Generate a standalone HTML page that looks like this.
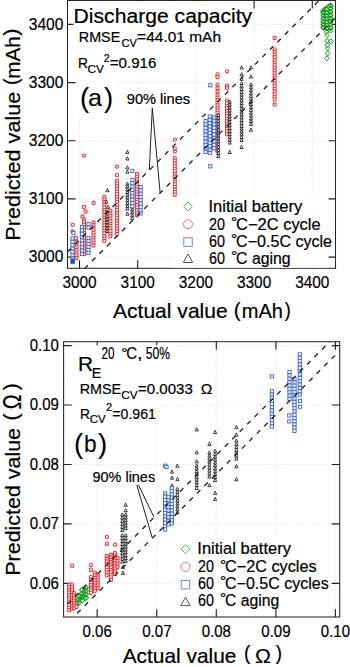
<!DOCTYPE html>
<html><head><meta charset="utf-8"><style>html,body{margin:0;padding:0;background:#fff;width:350px;height:667px;overflow:hidden}</style></head>
<body><svg width="350" height="667" viewBox="0 0 350 667" style="display:block;font-family:'Liberation Sans', sans-serif" fill="#000"><style>text{stroke:#000;stroke-width:0.22px;paint-order:stroke}</style><line x1="79.5" y1="0.5" x2="79.5" y2="268.3" stroke="#d4d4f0" stroke-width="0.7" stroke-dasharray="1 1.3"/><line x1="67.5" y1="257.1" x2="335.5" y2="257.1" stroke="#d4d4f0" stroke-width="0.7" stroke-dasharray="1 1.3"/><line x1="137.7" y1="0.5" x2="137.7" y2="268.3" stroke="#d4d4f0" stroke-width="0.7" stroke-dasharray="1 1.3"/><line x1="67.5" y1="198.9" x2="335.5" y2="198.9" stroke="#d4d4f0" stroke-width="0.7" stroke-dasharray="1 1.3"/><line x1="195.9" y1="0.5" x2="195.9" y2="268.3" stroke="#d4d4f0" stroke-width="0.7" stroke-dasharray="1 1.3"/><line x1="67.5" y1="140.8" x2="335.5" y2="140.8" stroke="#d4d4f0" stroke-width="0.7" stroke-dasharray="1 1.3"/><line x1="254.1" y1="0.5" x2="254.1" y2="268.3" stroke="#d4d4f0" stroke-width="0.7" stroke-dasharray="1 1.3"/><line x1="67.5" y1="82.6" x2="335.5" y2="82.6" stroke="#d4d4f0" stroke-width="0.7" stroke-dasharray="1 1.3"/><line x1="312.3" y1="0.5" x2="312.3" y2="268.3" stroke="#d4d4f0" stroke-width="0.7" stroke-dasharray="1 1.3"/><line x1="67.5" y1="24.4" x2="335.5" y2="24.4" stroke="#d4d4f0" stroke-width="0.7" stroke-dasharray="1 1.3"/><rect x="67.5" y="0.5" width="268.0" height="267.8" fill="none" stroke="#262626" stroke-width="1.05"/><path d="M79.5 268.3v-8M79.5 0.5v8M67.5 257.1h8M335.5 257.1h-7M137.7 268.3v-8M137.7 0.5v8M67.5 198.9h8M335.5 198.9h-7M195.9 268.3v-8M195.9 0.5v8M67.5 140.8h8M335.5 140.8h-7M254.1 268.3v-8M254.1 0.5v8M67.5 82.6h8M335.5 82.6h-7M312.3 268.3v-8M312.3 0.5v8M67.5 24.4h8M335.5 24.4h-7" stroke="#222" stroke-width="1.1"/><rect x="171.5" y="196.5" width="156.5" height="71.3" fill="#fff"/><rect x="73.4" y="1.1" width="179.6" height="26.9" fill="#fff"/><rect x="76" y="28" width="146.0" height="21.7" fill="#fff"/><rect x="76" y="49.7" width="82.0" height="26.0" fill="#fff"/><rect x="78" y="75.7" width="38.3" height="38.9" fill="#fff"/><rect x="125.5" y="90.7" width="65.5" height="17.3" fill="#fff"/><path d="M330.6 3.2L332.9 5.6L330.6 8.0L328.3 5.6Z" fill="#fff" stroke="#16a01e" stroke-width="1.35"/><path d="M328.2 4.8L330.5 7.2L328.2 9.6L325.9 7.2Z" fill="#fff" stroke="#16a01e" stroke-width="1.35"/><path d="M325.6 6.6L327.9 9.0L325.6 11.4L323.3 9.0Z" fill="#fff" stroke="#16a01e" stroke-width="1.35"/><path d="M323.4 8.6L325.7 11.0L323.4 13.4L321.1 11.0Z" fill="#fff" stroke="#16a01e" stroke-width="1.35"/><path d="M323.4 10.2L325.7 12.6L323.4 15.0L321.1 12.6Z" fill="#fff" stroke="#16a01e" stroke-width="1.35"/><path d="M323.4 13.2L325.7 15.6L323.4 18.0L321.1 15.6Z" fill="#fff" stroke="#16a01e" stroke-width="1.35"/><path d="M323.4 16.2L325.7 18.6L323.4 21.0L321.1 18.6Z" fill="#fff" stroke="#16a01e" stroke-width="1.35"/><path d="M323.4 19.4L325.7 21.8L323.4 24.2L321.1 21.8Z" fill="#fff" stroke="#16a01e" stroke-width="1.35"/><path d="M323.4 22.4L325.7 24.8L323.4 27.2L321.1 24.8Z" fill="#fff" stroke="#16a01e" stroke-width="1.35"/><path d="M323.4 25.2L325.7 27.6L323.4 30.0L321.1 27.6Z" fill="#fff" stroke="#16a01e" stroke-width="1.35"/><path d="M326.8 7.0L329.1 9.4L326.8 11.8L324.5 9.4Z" fill="#fff" stroke="#16a01e" stroke-width="1.35"/><path d="M326.8 10.4L329.1 12.8L326.8 15.2L324.5 12.8Z" fill="#fff" stroke="#16a01e" stroke-width="1.35"/><path d="M326.8 13.6L329.1 16.0L326.8 18.4L324.5 16.0Z" fill="#fff" stroke="#16a01e" stroke-width="1.35"/><path d="M326.8 16.8L329.1 19.2L326.8 21.6L324.5 19.2Z" fill="#fff" stroke="#16a01e" stroke-width="1.35"/><path d="M326.8 19.8L329.1 22.2L326.8 24.6L324.5 22.2Z" fill="#fff" stroke="#16a01e" stroke-width="1.35"/><path d="M326.8 23.0L329.1 25.4L326.8 27.8L324.5 25.4Z" fill="#fff" stroke="#16a01e" stroke-width="1.35"/><path d="M326.8 26.0L329.1 28.4L326.8 30.8L324.5 28.4Z" fill="#fff" stroke="#16a01e" stroke-width="1.35"/><path d="M330.5 6.2L332.8 8.6L330.5 11.0L328.2 8.6Z" fill="#fff" stroke="#16a01e" stroke-width="1.35"/><path d="M330.5 9.6L332.8 12.0L330.5 14.4L328.2 12.0Z" fill="#fff" stroke="#16a01e" stroke-width="1.35"/><path d="M330.5 12.8L332.8 15.2L330.5 17.6L328.2 15.2Z" fill="#fff" stroke="#16a01e" stroke-width="1.35"/><path d="M330.5 16.2L332.8 18.6L330.5 21.0L328.2 18.6Z" fill="#fff" stroke="#16a01e" stroke-width="1.35"/><path d="M330.5 19.4L332.8 21.8L330.5 24.2L328.2 21.8Z" fill="#fff" stroke="#16a01e" stroke-width="1.35"/><path d="M330.5 22.6L332.8 25.0L330.5 27.4L328.2 25.0Z" fill="#fff" stroke="#16a01e" stroke-width="1.35"/><path d="M330.5 25.6L332.8 28.0L330.5 30.4L328.2 28.0Z" fill="#fff" stroke="#16a01e" stroke-width="1.35"/><path d="M326.5 29.2L328.9 31.8L326.5 34.4L324.1 31.8Z" fill="none" stroke="#16a01e" stroke-width="1.0"/><path d="M330.6 28.0L333.0 30.6L330.6 33.2L328.2 30.6Z" fill="none" stroke="#16a01e" stroke-width="1.0"/><path d="M327.0 32.5L329.4 35.1L327.0 37.7L324.6 35.1Z" fill="none" stroke="#16a01e" stroke-width="1.0"/><path d="M327.0 38.4L329.4 41.0L327.0 43.6L324.6 41.0Z" fill="none" stroke="#16a01e" stroke-width="1.0"/><path d="M330.8 38.8L333.2 41.4L330.8 44.0L328.4 41.4Z" fill="none" stroke="#16a01e" stroke-width="1.0"/><path d="M327.3 42.5L329.7 45.1L327.3 47.7L324.9 45.1Z" fill="none" stroke="#16a01e" stroke-width="1.0"/><path d="M327.6 45.7L330.0 48.3L327.6 50.9L325.2 48.3Z" fill="none" stroke="#16a01e" stroke-width="1.0"/><path d="M327.6 50.7L330.0 53.3L327.6 55.9L325.2 53.3Z" fill="none" stroke="#16a01e" stroke-width="1.0"/><path d="M327.0 55.7L329.4 58.3L327.0 60.9L324.6 58.3Z" fill="none" stroke="#16a01e" stroke-width="1.0"/><circle cx="84.0" cy="155.6" r="1.65" fill="#fff" stroke="#e8333a" stroke-width="1.05"/><circle cx="84.0" cy="207.0" r="1.65" fill="#fff" stroke="#e8333a" stroke-width="1.05"/><circle cx="85.5" cy="211.5" r="1.65" fill="#fff" stroke="#e8333a" stroke-width="1.05"/><circle cx="82.5" cy="216.5" r="1.65" fill="#fff" stroke="#e8333a" stroke-width="1.05"/><circle cx="93.6" cy="203.0" r="1.65" fill="#fff" stroke="#e8333a" stroke-width="1.05"/><circle cx="72.8" cy="224.8" r="1.65" fill="#fff" stroke="#e8333a" stroke-width="1.05"/><circle cx="72.5" cy="231.5" r="1.65" fill="#fff" stroke="#e8333a" stroke-width="1.05"/><circle cx="76.0" cy="238.0" r="1.65" fill="#fff" stroke="#e8333a" stroke-width="1.05"/><circle cx="76.5" cy="242.0" r="1.65" fill="#fff" stroke="#e8333a" stroke-width="1.05"/><circle cx="76.5" cy="244.7" r="1.65" fill="#fff" stroke="#e8333a" stroke-width="1.05"/><circle cx="76.5" cy="247.3" r="1.65" fill="#fff" stroke="#e8333a" stroke-width="1.05"/><circle cx="76.5" cy="250.0" r="1.65" fill="#fff" stroke="#e8333a" stroke-width="1.05"/><circle cx="76.5" cy="252.7" r="1.65" fill="#fff" stroke="#e8333a" stroke-width="1.05"/><circle cx="76.5" cy="255.3" r="1.65" fill="#fff" stroke="#e8333a" stroke-width="1.05"/><circle cx="76.5" cy="258.0" r="1.65" fill="#fff" stroke="#e8333a" stroke-width="1.05"/><circle cx="84.0" cy="219.5" r="1.65" fill="#fff" stroke="#e8333a" stroke-width="1.05"/><circle cx="84.0" cy="222.2" r="1.65" fill="#fff" stroke="#e8333a" stroke-width="1.05"/><circle cx="84.0" cy="224.8" r="1.65" fill="#fff" stroke="#e8333a" stroke-width="1.05"/><circle cx="84.0" cy="227.5" r="1.65" fill="#fff" stroke="#e8333a" stroke-width="1.05"/><circle cx="84.0" cy="230.1" r="1.65" fill="#fff" stroke="#e8333a" stroke-width="1.05"/><circle cx="84.0" cy="232.8" r="1.65" fill="#fff" stroke="#e8333a" stroke-width="1.05"/><circle cx="84.0" cy="235.4" r="1.65" fill="#fff" stroke="#e8333a" stroke-width="1.05"/><circle cx="84.0" cy="238.1" r="1.65" fill="#fff" stroke="#e8333a" stroke-width="1.05"/><circle cx="84.0" cy="240.7" r="1.65" fill="#fff" stroke="#e8333a" stroke-width="1.05"/><circle cx="84.0" cy="243.4" r="1.65" fill="#fff" stroke="#e8333a" stroke-width="1.05"/><circle cx="84.0" cy="246.0" r="1.65" fill="#fff" stroke="#e8333a" stroke-width="1.05"/><circle cx="84.0" cy="248.7" r="1.65" fill="#fff" stroke="#e8333a" stroke-width="1.05"/><circle cx="84.0" cy="251.3" r="1.65" fill="#fff" stroke="#e8333a" stroke-width="1.05"/><circle cx="84.0" cy="254.0" r="1.65" fill="#fff" stroke="#e8333a" stroke-width="1.05"/><circle cx="93.5" cy="222.5" r="1.65" fill="#fff" stroke="#e8333a" stroke-width="1.05"/><circle cx="93.5" cy="225.1" r="1.65" fill="#fff" stroke="#e8333a" stroke-width="1.05"/><circle cx="93.5" cy="227.6" r="1.65" fill="#fff" stroke="#e8333a" stroke-width="1.05"/><circle cx="93.5" cy="230.2" r="1.65" fill="#fff" stroke="#e8333a" stroke-width="1.05"/><circle cx="93.5" cy="232.7" r="1.65" fill="#fff" stroke="#e8333a" stroke-width="1.05"/><circle cx="93.5" cy="235.3" r="1.65" fill="#fff" stroke="#e8333a" stroke-width="1.05"/><circle cx="93.5" cy="237.8" r="1.65" fill="#fff" stroke="#e8333a" stroke-width="1.05"/><circle cx="93.5" cy="240.4" r="1.65" fill="#fff" stroke="#e8333a" stroke-width="1.05"/><circle cx="93.5" cy="242.9" r="1.65" fill="#fff" stroke="#e8333a" stroke-width="1.05"/><circle cx="93.5" cy="245.5" r="1.65" fill="#fff" stroke="#e8333a" stroke-width="1.05"/><circle cx="104.4" cy="196.8" r="1.65" fill="#fff" stroke="#e8333a" stroke-width="1.05"/><circle cx="104.4" cy="199.4" r="1.65" fill="#fff" stroke="#e8333a" stroke-width="1.05"/><circle cx="104.4" cy="202.0" r="1.65" fill="#fff" stroke="#e8333a" stroke-width="1.05"/><circle cx="104.4" cy="204.6" r="1.65" fill="#fff" stroke="#e8333a" stroke-width="1.05"/><circle cx="104.4" cy="207.2" r="1.65" fill="#fff" stroke="#e8333a" stroke-width="1.05"/><circle cx="104.4" cy="209.8" r="1.65" fill="#fff" stroke="#e8333a" stroke-width="1.05"/><circle cx="104.4" cy="212.4" r="1.65" fill="#fff" stroke="#e8333a" stroke-width="1.05"/><circle cx="104.4" cy="215.0" r="1.65" fill="#fff" stroke="#e8333a" stroke-width="1.05"/><circle cx="104.4" cy="217.6" r="1.65" fill="#fff" stroke="#e8333a" stroke-width="1.05"/><circle cx="104.4" cy="220.2" r="1.65" fill="#fff" stroke="#e8333a" stroke-width="1.05"/><circle cx="104.4" cy="222.8" r="1.65" fill="#fff" stroke="#e8333a" stroke-width="1.05"/><circle cx="104.4" cy="225.4" r="1.65" fill="#fff" stroke="#e8333a" stroke-width="1.05"/><circle cx="104.4" cy="228.0" r="1.65" fill="#fff" stroke="#e8333a" stroke-width="1.05"/><circle cx="104.4" cy="230.6" r="1.65" fill="#fff" stroke="#e8333a" stroke-width="1.05"/><circle cx="104.4" cy="233.2" r="1.65" fill="#fff" stroke="#e8333a" stroke-width="1.05"/><circle cx="104.4" cy="235.8" r="1.65" fill="#fff" stroke="#e8333a" stroke-width="1.05"/><circle cx="104.4" cy="238.4" r="1.65" fill="#fff" stroke="#e8333a" stroke-width="1.05"/><circle cx="104.4" cy="241.0" r="1.65" fill="#fff" stroke="#e8333a" stroke-width="1.05"/><circle cx="110.4" cy="211.0" r="1.65" fill="#fff" stroke="#e8333a" stroke-width="1.05"/><circle cx="110.4" cy="213.5" r="1.65" fill="#fff" stroke="#e8333a" stroke-width="1.05"/><circle cx="110.4" cy="216.1" r="1.65" fill="#fff" stroke="#e8333a" stroke-width="1.05"/><circle cx="110.4" cy="218.6" r="1.65" fill="#fff" stroke="#e8333a" stroke-width="1.05"/><circle cx="110.4" cy="221.1" r="1.65" fill="#fff" stroke="#e8333a" stroke-width="1.05"/><circle cx="110.4" cy="223.7" r="1.65" fill="#fff" stroke="#e8333a" stroke-width="1.05"/><circle cx="110.4" cy="226.2" r="1.65" fill="#fff" stroke="#e8333a" stroke-width="1.05"/><circle cx="110.4" cy="228.7" r="1.65" fill="#fff" stroke="#e8333a" stroke-width="1.05"/><circle cx="110.4" cy="231.2" r="1.65" fill="#fff" stroke="#e8333a" stroke-width="1.05"/><circle cx="110.4" cy="233.8" r="1.65" fill="#fff" stroke="#e8333a" stroke-width="1.05"/><circle cx="110.4" cy="236.3" r="1.65" fill="#fff" stroke="#e8333a" stroke-width="1.05"/><circle cx="117.0" cy="166.6" r="1.65" fill="#fff" stroke="#e8333a" stroke-width="1.05"/><circle cx="117.0" cy="175.1" r="1.65" fill="#fff" stroke="#e8333a" stroke-width="1.05"/><circle cx="117.0" cy="181.0" r="1.65" fill="#fff" stroke="#e8333a" stroke-width="1.05"/><circle cx="117.0" cy="183.7" r="1.65" fill="#fff" stroke="#e8333a" stroke-width="1.05"/><circle cx="117.0" cy="186.3" r="1.65" fill="#fff" stroke="#e8333a" stroke-width="1.05"/><circle cx="117.0" cy="188.9" r="1.65" fill="#fff" stroke="#e8333a" stroke-width="1.05"/><circle cx="117.0" cy="191.6" r="1.65" fill="#fff" stroke="#e8333a" stroke-width="1.05"/><circle cx="117.0" cy="194.2" r="1.65" fill="#fff" stroke="#e8333a" stroke-width="1.05"/><circle cx="117.0" cy="196.9" r="1.65" fill="#fff" stroke="#e8333a" stroke-width="1.05"/><circle cx="117.0" cy="199.6" r="1.65" fill="#fff" stroke="#e8333a" stroke-width="1.05"/><circle cx="117.0" cy="202.2" r="1.65" fill="#fff" stroke="#e8333a" stroke-width="1.05"/><circle cx="117.0" cy="204.8" r="1.65" fill="#fff" stroke="#e8333a" stroke-width="1.05"/><circle cx="117.0" cy="207.5" r="1.65" fill="#fff" stroke="#e8333a" stroke-width="1.05"/><circle cx="117.0" cy="210.2" r="1.65" fill="#fff" stroke="#e8333a" stroke-width="1.05"/><circle cx="117.0" cy="212.8" r="1.65" fill="#fff" stroke="#e8333a" stroke-width="1.05"/><circle cx="117.0" cy="215.4" r="1.65" fill="#fff" stroke="#e8333a" stroke-width="1.05"/><circle cx="117.0" cy="218.1" r="1.65" fill="#fff" stroke="#e8333a" stroke-width="1.05"/><circle cx="117.0" cy="220.8" r="1.65" fill="#fff" stroke="#e8333a" stroke-width="1.05"/><circle cx="117.0" cy="223.4" r="1.65" fill="#fff" stroke="#e8333a" stroke-width="1.05"/><circle cx="117.0" cy="226.1" r="1.65" fill="#fff" stroke="#e8333a" stroke-width="1.05"/><circle cx="117.0" cy="228.7" r="1.65" fill="#fff" stroke="#e8333a" stroke-width="1.05"/><circle cx="117.0" cy="231.3" r="1.65" fill="#fff" stroke="#e8333a" stroke-width="1.05"/><circle cx="117.0" cy="234.0" r="1.65" fill="#fff" stroke="#e8333a" stroke-width="1.05"/><circle cx="137.0" cy="174.0" r="1.65" fill="#fff" stroke="#e8333a" stroke-width="1.05"/><circle cx="137.0" cy="176.6" r="1.65" fill="#fff" stroke="#e8333a" stroke-width="1.05"/><circle cx="137.0" cy="179.2" r="1.65" fill="#fff" stroke="#e8333a" stroke-width="1.05"/><circle cx="137.0" cy="181.7" r="1.65" fill="#fff" stroke="#e8333a" stroke-width="1.05"/><circle cx="137.0" cy="184.3" r="1.65" fill="#fff" stroke="#e8333a" stroke-width="1.05"/><circle cx="137.0" cy="186.9" r="1.65" fill="#fff" stroke="#e8333a" stroke-width="1.05"/><circle cx="137.0" cy="189.5" r="1.65" fill="#fff" stroke="#e8333a" stroke-width="1.05"/><circle cx="137.0" cy="192.1" r="1.65" fill="#fff" stroke="#e8333a" stroke-width="1.05"/><circle cx="137.0" cy="194.7" r="1.65" fill="#fff" stroke="#e8333a" stroke-width="1.05"/><circle cx="137.0" cy="197.2" r="1.65" fill="#fff" stroke="#e8333a" stroke-width="1.05"/><circle cx="137.0" cy="199.8" r="1.65" fill="#fff" stroke="#e8333a" stroke-width="1.05"/><circle cx="137.0" cy="202.4" r="1.65" fill="#fff" stroke="#e8333a" stroke-width="1.05"/><circle cx="137.0" cy="205.0" r="1.65" fill="#fff" stroke="#e8333a" stroke-width="1.05"/><circle cx="137.0" cy="207.6" r="1.65" fill="#fff" stroke="#e8333a" stroke-width="1.05"/><circle cx="137.0" cy="210.1" r="1.65" fill="#fff" stroke="#e8333a" stroke-width="1.05"/><circle cx="137.0" cy="212.7" r="1.65" fill="#fff" stroke="#e8333a" stroke-width="1.05"/><circle cx="137.0" cy="215.3" r="1.65" fill="#fff" stroke="#e8333a" stroke-width="1.05"/><circle cx="174.8" cy="139.6" r="1.65" fill="#fff" stroke="#e8333a" stroke-width="1.05"/><circle cx="174.8" cy="148.6" r="1.65" fill="#fff" stroke="#e8333a" stroke-width="1.05"/><circle cx="174.8" cy="151.6" r="1.65" fill="#fff" stroke="#e8333a" stroke-width="1.05"/><circle cx="174.8" cy="158.1" r="1.65" fill="#fff" stroke="#e8333a" stroke-width="1.05"/><circle cx="174.8" cy="160.7" r="1.65" fill="#fff" stroke="#e8333a" stroke-width="1.05"/><circle cx="174.8" cy="163.3" r="1.65" fill="#fff" stroke="#e8333a" stroke-width="1.05"/><circle cx="174.8" cy="165.9" r="1.65" fill="#fff" stroke="#e8333a" stroke-width="1.05"/><circle cx="174.8" cy="168.6" r="1.65" fill="#fff" stroke="#e8333a" stroke-width="1.05"/><circle cx="174.8" cy="171.2" r="1.65" fill="#fff" stroke="#e8333a" stroke-width="1.05"/><circle cx="174.8" cy="173.8" r="1.65" fill="#fff" stroke="#e8333a" stroke-width="1.05"/><circle cx="174.8" cy="176.4" r="1.65" fill="#fff" stroke="#e8333a" stroke-width="1.05"/><circle cx="174.8" cy="179.0" r="1.65" fill="#fff" stroke="#e8333a" stroke-width="1.05"/><circle cx="174.8" cy="181.6" r="1.65" fill="#fff" stroke="#e8333a" stroke-width="1.05"/><circle cx="174.8" cy="184.2" r="1.65" fill="#fff" stroke="#e8333a" stroke-width="1.05"/><circle cx="174.8" cy="186.9" r="1.65" fill="#fff" stroke="#e8333a" stroke-width="1.05"/><circle cx="174.8" cy="189.5" r="1.65" fill="#fff" stroke="#e8333a" stroke-width="1.05"/><circle cx="174.8" cy="192.1" r="1.65" fill="#fff" stroke="#e8333a" stroke-width="1.05"/><circle cx="174.8" cy="194.7" r="1.65" fill="#fff" stroke="#e8333a" stroke-width="1.05"/><circle cx="217.5" cy="74.3" r="1.65" fill="#fff" stroke="#e8333a" stroke-width="1.05"/><circle cx="217.5" cy="77.0" r="1.65" fill="#fff" stroke="#e8333a" stroke-width="1.05"/><circle cx="217.5" cy="84.6" r="1.65" fill="#fff" stroke="#e8333a" stroke-width="1.05"/><circle cx="217.5" cy="88.0" r="1.65" fill="#fff" stroke="#e8333a" stroke-width="1.05"/><circle cx="217.5" cy="91.5" r="1.65" fill="#fff" stroke="#e8333a" stroke-width="1.05"/><circle cx="217.5" cy="95.0" r="1.65" fill="#fff" stroke="#e8333a" stroke-width="1.05"/><circle cx="217.5" cy="97.6" r="1.65" fill="#fff" stroke="#e8333a" stroke-width="1.05"/><circle cx="217.5" cy="100.1" r="1.65" fill="#fff" stroke="#e8333a" stroke-width="1.05"/><circle cx="217.5" cy="102.7" r="1.65" fill="#fff" stroke="#e8333a" stroke-width="1.05"/><circle cx="217.5" cy="105.3" r="1.65" fill="#fff" stroke="#e8333a" stroke-width="1.05"/><circle cx="217.5" cy="107.8" r="1.65" fill="#fff" stroke="#e8333a" stroke-width="1.05"/><circle cx="217.5" cy="110.4" r="1.65" fill="#fff" stroke="#e8333a" stroke-width="1.05"/><circle cx="217.5" cy="112.9" r="1.65" fill="#fff" stroke="#e8333a" stroke-width="1.05"/><circle cx="217.5" cy="115.5" r="1.65" fill="#fff" stroke="#e8333a" stroke-width="1.05"/><circle cx="217.5" cy="118.1" r="1.65" fill="#fff" stroke="#e8333a" stroke-width="1.05"/><circle cx="217.5" cy="120.6" r="1.65" fill="#fff" stroke="#e8333a" stroke-width="1.05"/><circle cx="217.5" cy="123.2" r="1.65" fill="#fff" stroke="#e8333a" stroke-width="1.05"/><circle cx="217.5" cy="125.8" r="1.65" fill="#fff" stroke="#e8333a" stroke-width="1.05"/><circle cx="217.5" cy="128.3" r="1.65" fill="#fff" stroke="#e8333a" stroke-width="1.05"/><circle cx="217.5" cy="130.9" r="1.65" fill="#fff" stroke="#e8333a" stroke-width="1.05"/><circle cx="217.5" cy="133.5" r="1.65" fill="#fff" stroke="#e8333a" stroke-width="1.05"/><circle cx="217.5" cy="136.0" r="1.65" fill="#fff" stroke="#e8333a" stroke-width="1.05"/><circle cx="217.5" cy="138.6" r="1.65" fill="#fff" stroke="#e8333a" stroke-width="1.05"/><circle cx="217.5" cy="141.1" r="1.65" fill="#fff" stroke="#e8333a" stroke-width="1.05"/><circle cx="217.5" cy="143.7" r="1.65" fill="#fff" stroke="#e8333a" stroke-width="1.05"/><circle cx="217.5" cy="146.3" r="1.65" fill="#fff" stroke="#e8333a" stroke-width="1.05"/><circle cx="217.5" cy="148.8" r="1.65" fill="#fff" stroke="#e8333a" stroke-width="1.05"/><circle cx="217.5" cy="151.4" r="1.65" fill="#fff" stroke="#e8333a" stroke-width="1.05"/><circle cx="227.0" cy="71.3" r="1.65" fill="#fff" stroke="#e8333a" stroke-width="1.05"/><circle cx="227.0" cy="85.7" r="1.65" fill="#fff" stroke="#e8333a" stroke-width="1.05"/><circle cx="227.0" cy="88.0" r="1.65" fill="#fff" stroke="#e8333a" stroke-width="1.05"/><circle cx="227.0" cy="100.6" r="1.65" fill="#fff" stroke="#e8333a" stroke-width="1.05"/><circle cx="227.0" cy="103.2" r="1.65" fill="#fff" stroke="#e8333a" stroke-width="1.05"/><circle cx="227.0" cy="105.8" r="1.65" fill="#fff" stroke="#e8333a" stroke-width="1.05"/><circle cx="227.0" cy="108.4" r="1.65" fill="#fff" stroke="#e8333a" stroke-width="1.05"/><circle cx="227.0" cy="111.0" r="1.65" fill="#fff" stroke="#e8333a" stroke-width="1.05"/><circle cx="227.0" cy="113.6" r="1.65" fill="#fff" stroke="#e8333a" stroke-width="1.05"/><circle cx="227.0" cy="116.2" r="1.65" fill="#fff" stroke="#e8333a" stroke-width="1.05"/><circle cx="227.0" cy="118.7" r="1.65" fill="#fff" stroke="#e8333a" stroke-width="1.05"/><circle cx="227.0" cy="121.3" r="1.65" fill="#fff" stroke="#e8333a" stroke-width="1.05"/><circle cx="227.0" cy="123.9" r="1.65" fill="#fff" stroke="#e8333a" stroke-width="1.05"/><circle cx="227.0" cy="126.5" r="1.65" fill="#fff" stroke="#e8333a" stroke-width="1.05"/><circle cx="227.0" cy="129.1" r="1.65" fill="#fff" stroke="#e8333a" stroke-width="1.05"/><circle cx="227.0" cy="131.7" r="1.65" fill="#fff" stroke="#e8333a" stroke-width="1.05"/><circle cx="227.0" cy="134.3" r="1.65" fill="#fff" stroke="#e8333a" stroke-width="1.05"/><circle cx="274.6" cy="38.0" r="1.65" fill="#fff" stroke="#e8333a" stroke-width="1.05"/><circle cx="274.6" cy="104.5" r="1.65" fill="#fff" stroke="#e8333a" stroke-width="1.05"/><circle cx="274.6" cy="49.4" r="1.65" fill="#fff" stroke="#e8333a" stroke-width="1.05"/><circle cx="274.6" cy="52.0" r="1.65" fill="#fff" stroke="#e8333a" stroke-width="1.05"/><circle cx="274.6" cy="54.7" r="1.65" fill="#fff" stroke="#e8333a" stroke-width="1.05"/><circle cx="274.6" cy="57.3" r="1.65" fill="#fff" stroke="#e8333a" stroke-width="1.05"/><circle cx="274.6" cy="59.9" r="1.65" fill="#fff" stroke="#e8333a" stroke-width="1.05"/><circle cx="274.6" cy="62.6" r="1.65" fill="#fff" stroke="#e8333a" stroke-width="1.05"/><circle cx="274.6" cy="65.2" r="1.65" fill="#fff" stroke="#e8333a" stroke-width="1.05"/><circle cx="274.6" cy="67.8" r="1.65" fill="#fff" stroke="#e8333a" stroke-width="1.05"/><circle cx="274.6" cy="70.5" r="1.65" fill="#fff" stroke="#e8333a" stroke-width="1.05"/><circle cx="274.6" cy="73.1" r="1.65" fill="#fff" stroke="#e8333a" stroke-width="1.05"/><circle cx="274.6" cy="75.7" r="1.65" fill="#fff" stroke="#e8333a" stroke-width="1.05"/><circle cx="274.6" cy="78.3" r="1.65" fill="#fff" stroke="#e8333a" stroke-width="1.05"/><circle cx="274.6" cy="81.0" r="1.65" fill="#fff" stroke="#e8333a" stroke-width="1.05"/><circle cx="274.6" cy="83.6" r="1.65" fill="#fff" stroke="#e8333a" stroke-width="1.05"/><circle cx="274.6" cy="86.2" r="1.65" fill="#fff" stroke="#e8333a" stroke-width="1.05"/><circle cx="274.6" cy="88.9" r="1.65" fill="#fff" stroke="#e8333a" stroke-width="1.05"/><circle cx="274.6" cy="91.5" r="1.65" fill="#fff" stroke="#e8333a" stroke-width="1.05"/><circle cx="274.6" cy="94.1" r="1.65" fill="#fff" stroke="#e8333a" stroke-width="1.05"/><circle cx="274.6" cy="96.8" r="1.65" fill="#fff" stroke="#e8333a" stroke-width="1.05"/><circle cx="274.6" cy="99.4" r="1.65" fill="#fff" stroke="#e8333a" stroke-width="1.05"/><path d="M107.4 188.5L109.0 191.7L105.8 191.7Z" fill="#fff" stroke="#1e1e1e" stroke-width="0.85" stroke-linejoin="miter"/><path d="M106.5 200.0L108.1 203.2L104.9 203.2Z" fill="#fff" stroke="#1e1e1e" stroke-width="0.85" stroke-linejoin="miter"/><path d="M108.0 205.2L109.6 208.4L106.4 208.4Z" fill="#fff" stroke="#1e1e1e" stroke-width="0.85" stroke-linejoin="miter"/><path d="M107.0 209.8L108.6 213.0L105.4 213.0Z" fill="#fff" stroke="#1e1e1e" stroke-width="0.85" stroke-linejoin="miter"/><path d="M107.0 214.3L108.6 217.5L105.4 217.5Z" fill="#fff" stroke="#1e1e1e" stroke-width="0.85" stroke-linejoin="miter"/><path d="M107.0 217.3L108.6 220.5L105.4 220.5Z" fill="#fff" stroke="#1e1e1e" stroke-width="0.85" stroke-linejoin="miter"/><path d="M107.0 220.3L108.6 223.5L105.4 223.5Z" fill="#fff" stroke="#1e1e1e" stroke-width="0.85" stroke-linejoin="miter"/><path d="M107.0 223.3L108.6 226.5L105.4 226.5Z" fill="#fff" stroke="#1e1e1e" stroke-width="0.85" stroke-linejoin="miter"/><path d="M107.0 226.3L108.6 229.5L105.4 229.5Z" fill="#fff" stroke="#1e1e1e" stroke-width="0.85" stroke-linejoin="miter"/><path d="M107.0 229.3L108.6 232.5L105.4 232.5Z" fill="#fff" stroke="#1e1e1e" stroke-width="0.85" stroke-linejoin="miter"/><path d="M127.4 150.2L129.0 153.4L125.8 153.4Z" fill="#fff" stroke="#1e1e1e" stroke-width="0.85" stroke-linejoin="miter"/><path d="M127.4 156.8L129.0 160.0L125.8 160.0Z" fill="#fff" stroke="#1e1e1e" stroke-width="0.85" stroke-linejoin="miter"/><path d="M127.4 165.8L129.0 169.0L125.8 169.0Z" fill="#fff" stroke="#1e1e1e" stroke-width="0.85" stroke-linejoin="miter"/><path d="M127.4 170.0L129.0 173.2L125.8 173.2Z" fill="#fff" stroke="#1e1e1e" stroke-width="0.85" stroke-linejoin="miter"/><path d="M127.4 182.0L129.0 185.2L125.8 185.2Z" fill="#fff" stroke="#1e1e1e" stroke-width="0.85" stroke-linejoin="miter"/><path d="M127.4 184.7L129.0 188.0L125.8 188.0Z" fill="#fff" stroke="#1e1e1e" stroke-width="0.85" stroke-linejoin="miter"/><path d="M127.4 187.5L129.0 190.8L125.8 190.8Z" fill="#fff" stroke="#1e1e1e" stroke-width="0.85" stroke-linejoin="miter"/><path d="M127.4 190.3L129.0 193.5L125.8 193.5Z" fill="#fff" stroke="#1e1e1e" stroke-width="0.85" stroke-linejoin="miter"/><path d="M127.4 193.0L129.0 196.3L125.8 196.3Z" fill="#fff" stroke="#1e1e1e" stroke-width="0.85" stroke-linejoin="miter"/><path d="M127.4 195.8L129.0 199.1L125.8 199.1Z" fill="#fff" stroke="#1e1e1e" stroke-width="0.85" stroke-linejoin="miter"/><path d="M127.4 198.6L129.0 201.8L125.8 201.8Z" fill="#fff" stroke="#1e1e1e" stroke-width="0.85" stroke-linejoin="miter"/><path d="M127.4 201.3L129.0 204.6L125.8 204.6Z" fill="#fff" stroke="#1e1e1e" stroke-width="0.85" stroke-linejoin="miter"/><path d="M127.4 204.1L129.0 207.4L125.8 207.4Z" fill="#fff" stroke="#1e1e1e" stroke-width="0.85" stroke-linejoin="miter"/><path d="M127.4 206.9L129.0 210.1L125.8 210.1Z" fill="#fff" stroke="#1e1e1e" stroke-width="0.85" stroke-linejoin="miter"/><path d="M127.4 212.0L129.0 215.2L125.8 215.2Z" fill="#fff" stroke="#1e1e1e" stroke-width="0.85" stroke-linejoin="miter"/><path d="M132.2 187.3L133.8 190.5L130.6 190.5Z" fill="#fff" stroke="#1e1e1e" stroke-width="0.85" stroke-linejoin="miter"/><path d="M132.2 190.2L133.8 193.5L130.6 193.5Z" fill="#fff" stroke="#1e1e1e" stroke-width="0.85" stroke-linejoin="miter"/><path d="M132.2 193.1L133.8 196.4L130.6 196.4Z" fill="#fff" stroke="#1e1e1e" stroke-width="0.85" stroke-linejoin="miter"/><path d="M132.2 196.1L133.8 199.3L130.6 199.3Z" fill="#fff" stroke="#1e1e1e" stroke-width="0.85" stroke-linejoin="miter"/><path d="M132.2 199.0L133.8 202.2L130.6 202.2Z" fill="#fff" stroke="#1e1e1e" stroke-width="0.85" stroke-linejoin="miter"/><path d="M132.2 201.9L133.8 205.2L130.6 205.2Z" fill="#fff" stroke="#1e1e1e" stroke-width="0.85" stroke-linejoin="miter"/><path d="M132.2 204.9L133.8 208.1L130.6 208.1Z" fill="#fff" stroke="#1e1e1e" stroke-width="0.85" stroke-linejoin="miter"/><path d="M132.2 207.8L133.8 211.0L130.6 211.0Z" fill="#fff" stroke="#1e1e1e" stroke-width="0.85" stroke-linejoin="miter"/><path d="M132.2 210.7L133.8 214.0L130.6 214.0Z" fill="#fff" stroke="#1e1e1e" stroke-width="0.85" stroke-linejoin="miter"/><path d="M132.2 213.7L133.8 216.9L130.6 216.9Z" fill="#fff" stroke="#1e1e1e" stroke-width="0.85" stroke-linejoin="miter"/><path d="M132.2 216.6L133.8 219.8L130.6 219.8Z" fill="#fff" stroke="#1e1e1e" stroke-width="0.85" stroke-linejoin="miter"/><path d="M218.3 113.3L219.9 116.5L216.7 116.5Z" fill="#fff" stroke="#1e1e1e" stroke-width="0.85" stroke-linejoin="miter"/><path d="M218.3 116.2L219.9 119.4L216.7 119.4Z" fill="#fff" stroke="#1e1e1e" stroke-width="0.85" stroke-linejoin="miter"/><path d="M218.3 119.1L219.9 122.4L216.7 122.4Z" fill="#fff" stroke="#1e1e1e" stroke-width="0.85" stroke-linejoin="miter"/><path d="M218.3 122.1L219.9 125.3L216.7 125.3Z" fill="#fff" stroke="#1e1e1e" stroke-width="0.85" stroke-linejoin="miter"/><path d="M218.3 125.0L219.9 128.2L216.7 128.2Z" fill="#fff" stroke="#1e1e1e" stroke-width="0.85" stroke-linejoin="miter"/><path d="M218.3 127.9L219.9 131.2L216.7 131.2Z" fill="#fff" stroke="#1e1e1e" stroke-width="0.85" stroke-linejoin="miter"/><path d="M218.3 130.9L219.9 134.1L216.7 134.1Z" fill="#fff" stroke="#1e1e1e" stroke-width="0.85" stroke-linejoin="miter"/><path d="M218.3 133.8L219.9 137.0L216.7 137.0Z" fill="#fff" stroke="#1e1e1e" stroke-width="0.85" stroke-linejoin="miter"/><path d="M218.3 136.7L219.9 139.9L216.7 139.9Z" fill="#fff" stroke="#1e1e1e" stroke-width="0.85" stroke-linejoin="miter"/><path d="M218.3 139.6L219.9 142.9L216.7 142.9Z" fill="#fff" stroke="#1e1e1e" stroke-width="0.85" stroke-linejoin="miter"/><path d="M218.3 142.6L219.9 145.8L216.7 145.8Z" fill="#fff" stroke="#1e1e1e" stroke-width="0.85" stroke-linejoin="miter"/><path d="M218.3 145.5L219.9 148.7L216.7 148.7Z" fill="#fff" stroke="#1e1e1e" stroke-width="0.85" stroke-linejoin="miter"/><path d="M218.3 148.4L219.9 151.7L216.7 151.7Z" fill="#fff" stroke="#1e1e1e" stroke-width="0.85" stroke-linejoin="miter"/><path d="M218.3 151.4L219.9 154.6L216.7 154.6Z" fill="#fff" stroke="#1e1e1e" stroke-width="0.85" stroke-linejoin="miter"/><path d="M218.3 154.3L219.9 157.5L216.7 157.5Z" fill="#fff" stroke="#1e1e1e" stroke-width="0.85" stroke-linejoin="miter"/><path d="M229.7 100.0L231.3 103.2L228.1 103.2Z" fill="#fff" stroke="#1e1e1e" stroke-width="0.85" stroke-linejoin="miter"/><path d="M229.7 102.9L231.3 106.1L228.1 106.1Z" fill="#fff" stroke="#1e1e1e" stroke-width="0.85" stroke-linejoin="miter"/><path d="M229.7 105.8L231.3 109.1L228.1 109.1Z" fill="#fff" stroke="#1e1e1e" stroke-width="0.85" stroke-linejoin="miter"/><path d="M229.7 108.7L231.3 112.0L228.1 112.0Z" fill="#fff" stroke="#1e1e1e" stroke-width="0.85" stroke-linejoin="miter"/><path d="M229.7 111.7L231.3 114.9L228.1 114.9Z" fill="#fff" stroke="#1e1e1e" stroke-width="0.85" stroke-linejoin="miter"/><path d="M229.7 114.6L231.3 117.8L228.1 117.8Z" fill="#fff" stroke="#1e1e1e" stroke-width="0.85" stroke-linejoin="miter"/><path d="M229.7 117.5L231.3 120.7L228.1 120.7Z" fill="#fff" stroke="#1e1e1e" stroke-width="0.85" stroke-linejoin="miter"/><path d="M229.7 120.4L231.3 123.7L228.1 123.7Z" fill="#fff" stroke="#1e1e1e" stroke-width="0.85" stroke-linejoin="miter"/><path d="M229.7 123.4L231.3 126.6L228.1 126.6Z" fill="#fff" stroke="#1e1e1e" stroke-width="0.85" stroke-linejoin="miter"/><path d="M229.7 126.3L231.3 129.5L228.1 129.5Z" fill="#fff" stroke="#1e1e1e" stroke-width="0.85" stroke-linejoin="miter"/><path d="M229.7 129.2L231.3 132.4L228.1 132.4Z" fill="#fff" stroke="#1e1e1e" stroke-width="0.85" stroke-linejoin="miter"/><path d="M229.7 132.1L231.3 135.4L228.1 135.4Z" fill="#fff" stroke="#1e1e1e" stroke-width="0.85" stroke-linejoin="miter"/><path d="M229.7 135.0L231.3 138.3L228.1 138.3Z" fill="#fff" stroke="#1e1e1e" stroke-width="0.85" stroke-linejoin="miter"/><path d="M229.7 138.0L231.3 141.2L228.1 141.2Z" fill="#fff" stroke="#1e1e1e" stroke-width="0.85" stroke-linejoin="miter"/><path d="M229.7 140.9L231.3 144.1L228.1 144.1Z" fill="#fff" stroke="#1e1e1e" stroke-width="0.85" stroke-linejoin="miter"/><path d="M229.7 150.3L231.3 153.5L228.1 153.5Z" fill="#fff" stroke="#1e1e1e" stroke-width="0.85" stroke-linejoin="miter"/><path d="M241.6 65.7L243.2 68.9L240.0 68.9Z" fill="#fff" stroke="#1e1e1e" stroke-width="0.85" stroke-linejoin="miter"/><path d="M241.6 72.6L243.2 75.8L240.0 75.8Z" fill="#fff" stroke="#1e1e1e" stroke-width="0.85" stroke-linejoin="miter"/><path d="M241.6 77.2L243.2 80.4L240.0 80.4Z" fill="#fff" stroke="#1e1e1e" stroke-width="0.85" stroke-linejoin="miter"/><path d="M241.6 145.3L243.2 148.5L240.0 148.5Z" fill="#fff" stroke="#1e1e1e" stroke-width="0.85" stroke-linejoin="miter"/><path d="M241.6 81.7L243.2 84.9L240.0 84.9Z" fill="#fff" stroke="#1e1e1e" stroke-width="0.85" stroke-linejoin="miter"/><path d="M241.6 84.5L243.2 87.8L240.0 87.8Z" fill="#fff" stroke="#1e1e1e" stroke-width="0.85" stroke-linejoin="miter"/><path d="M241.6 87.3L243.2 90.6L240.0 90.6Z" fill="#fff" stroke="#1e1e1e" stroke-width="0.85" stroke-linejoin="miter"/><path d="M241.6 90.2L243.2 93.4L240.0 93.4Z" fill="#fff" stroke="#1e1e1e" stroke-width="0.85" stroke-linejoin="miter"/><path d="M241.6 93.0L243.2 96.2L240.0 96.2Z" fill="#fff" stroke="#1e1e1e" stroke-width="0.85" stroke-linejoin="miter"/><path d="M241.6 95.8L243.2 99.1L240.0 99.1Z" fill="#fff" stroke="#1e1e1e" stroke-width="0.85" stroke-linejoin="miter"/><path d="M241.6 98.7L243.2 101.9L240.0 101.9Z" fill="#fff" stroke="#1e1e1e" stroke-width="0.85" stroke-linejoin="miter"/><path d="M241.6 101.5L243.2 104.7L240.0 104.7Z" fill="#fff" stroke="#1e1e1e" stroke-width="0.85" stroke-linejoin="miter"/><path d="M241.6 104.3L243.2 107.6L240.0 107.6Z" fill="#fff" stroke="#1e1e1e" stroke-width="0.85" stroke-linejoin="miter"/><path d="M241.6 107.2L243.2 110.4L240.0 110.4Z" fill="#fff" stroke="#1e1e1e" stroke-width="0.85" stroke-linejoin="miter"/><path d="M241.6 110.0L243.2 113.2L240.0 113.2Z" fill="#fff" stroke="#1e1e1e" stroke-width="0.85" stroke-linejoin="miter"/><path d="M241.6 112.8L243.2 116.0L240.0 116.0Z" fill="#fff" stroke="#1e1e1e" stroke-width="0.85" stroke-linejoin="miter"/><path d="M241.6 115.6L243.2 118.9L240.0 118.9Z" fill="#fff" stroke="#1e1e1e" stroke-width="0.85" stroke-linejoin="miter"/><path d="M241.6 118.5L243.2 121.7L240.0 121.7Z" fill="#fff" stroke="#1e1e1e" stroke-width="0.85" stroke-linejoin="miter"/><path d="M241.6 121.3L243.2 124.5L240.0 124.5Z" fill="#fff" stroke="#1e1e1e" stroke-width="0.85" stroke-linejoin="miter"/><path d="M241.6 124.1L243.2 127.4L240.0 127.4Z" fill="#fff" stroke="#1e1e1e" stroke-width="0.85" stroke-linejoin="miter"/><path d="M241.6 127.0L243.2 130.2L240.0 130.2Z" fill="#fff" stroke="#1e1e1e" stroke-width="0.85" stroke-linejoin="miter"/><path d="M241.6 129.8L243.2 133.0L240.0 133.0Z" fill="#fff" stroke="#1e1e1e" stroke-width="0.85" stroke-linejoin="miter"/><path d="M241.6 132.6L243.2 135.9L240.0 135.9Z" fill="#fff" stroke="#1e1e1e" stroke-width="0.85" stroke-linejoin="miter"/><path d="M241.6 135.5L243.2 138.7L240.0 138.7Z" fill="#fff" stroke="#1e1e1e" stroke-width="0.85" stroke-linejoin="miter"/><path d="M241.6 138.3L243.2 141.5L240.0 141.5Z" fill="#fff" stroke="#1e1e1e" stroke-width="0.85" stroke-linejoin="miter"/><path d="M251.0 65.7L252.6 68.9L249.4 68.9Z" fill="#fff" stroke="#1e1e1e" stroke-width="0.85" stroke-linejoin="miter"/><path d="M251.0 74.9L252.6 78.1L249.4 78.1Z" fill="#fff" stroke="#1e1e1e" stroke-width="0.85" stroke-linejoin="miter"/><path d="M251.0 128.0L252.6 131.2L249.4 131.2Z" fill="#fff" stroke="#1e1e1e" stroke-width="0.85" stroke-linejoin="miter"/><path d="M251.0 82.9L252.6 86.1L249.4 86.1Z" fill="#fff" stroke="#1e1e1e" stroke-width="0.85" stroke-linejoin="miter"/><path d="M251.0 85.7L252.6 88.9L249.4 88.9Z" fill="#fff" stroke="#1e1e1e" stroke-width="0.85" stroke-linejoin="miter"/><path d="M251.0 88.5L252.6 91.7L249.4 91.7Z" fill="#fff" stroke="#1e1e1e" stroke-width="0.85" stroke-linejoin="miter"/><path d="M251.0 91.3L252.6 94.6L249.4 94.6Z" fill="#fff" stroke="#1e1e1e" stroke-width="0.85" stroke-linejoin="miter"/><path d="M251.0 94.1L252.6 97.4L249.4 97.4Z" fill="#fff" stroke="#1e1e1e" stroke-width="0.85" stroke-linejoin="miter"/><path d="M251.0 97.0L252.6 100.2L249.4 100.2Z" fill="#fff" stroke="#1e1e1e" stroke-width="0.85" stroke-linejoin="miter"/><path d="M251.0 99.8L252.6 103.0L249.4 103.0Z" fill="#fff" stroke="#1e1e1e" stroke-width="0.85" stroke-linejoin="miter"/><path d="M251.0 102.6L252.6 105.8L249.4 105.8Z" fill="#fff" stroke="#1e1e1e" stroke-width="0.85" stroke-linejoin="miter"/><path d="M251.0 105.4L252.6 108.6L249.4 108.6Z" fill="#fff" stroke="#1e1e1e" stroke-width="0.85" stroke-linejoin="miter"/><path d="M251.0 108.2L252.6 111.4L249.4 111.4Z" fill="#fff" stroke="#1e1e1e" stroke-width="0.85" stroke-linejoin="miter"/><path d="M251.0 111.0L252.6 114.3L249.4 114.3Z" fill="#fff" stroke="#1e1e1e" stroke-width="0.85" stroke-linejoin="miter"/><path d="M251.0 113.8L252.6 117.1L249.4 117.1Z" fill="#fff" stroke="#1e1e1e" stroke-width="0.85" stroke-linejoin="miter"/><path d="M251.0 116.7L252.6 119.9L249.4 119.9Z" fill="#fff" stroke="#1e1e1e" stroke-width="0.85" stroke-linejoin="miter"/><path d="M251.0 119.5L252.6 122.7L249.4 122.7Z" fill="#fff" stroke="#1e1e1e" stroke-width="0.85" stroke-linejoin="miter"/><path d="M251.0 122.3L252.6 125.5L249.4 125.5Z" fill="#fff" stroke="#1e1e1e" stroke-width="0.85" stroke-linejoin="miter"/><rect x="71.9" y="231.4" width="3.2" height="3.2" fill="#fff" stroke="#4169cc" stroke-width="0.95"/><rect x="70.9" y="236.9" width="3.2" height="3.2" fill="#fff" stroke="#4169cc" stroke-width="0.95"/><rect x="70.9" y="240.3" width="3.2" height="3.2" fill="#fff" stroke="#4169cc" stroke-width="0.95"/><rect x="70.9" y="243.6" width="3.2" height="3.2" fill="#fff" stroke="#4169cc" stroke-width="0.95"/><rect x="70.9" y="247.0" width="3.2" height="3.2" fill="#fff" stroke="#4169cc" stroke-width="0.95"/><rect x="70.9" y="250.3" width="3.2" height="3.2" fill="#fff" stroke="#4169cc" stroke-width="0.95"/><rect x="70.9" y="253.7" width="3.2" height="3.2" fill="#fff" stroke="#4169cc" stroke-width="0.95"/><rect x="70.9" y="257.0" width="3.2" height="3.2" fill="#fff" stroke="#4169cc" stroke-width="0.95"/><rect x="70.9" y="260.4" width="3.2" height="3.2" fill="#fff" stroke="#4169cc" stroke-width="0.95"/><rect x="70.6" y="258.6" width="4.2" height="4.6" fill="#2c50c4"/><rect x="80.4" y="225.4" width="3.2" height="3.2" fill="#fff" stroke="#4169cc" stroke-width="0.95"/><rect x="80.4" y="228.8" width="3.2" height="3.2" fill="#fff" stroke="#4169cc" stroke-width="0.95"/><rect x="80.4" y="232.2" width="3.2" height="3.2" fill="#fff" stroke="#4169cc" stroke-width="0.95"/><rect x="80.4" y="235.5" width="3.2" height="3.2" fill="#fff" stroke="#4169cc" stroke-width="0.95"/><rect x="80.4" y="238.9" width="3.2" height="3.2" fill="#fff" stroke="#4169cc" stroke-width="0.95"/><rect x="80.4" y="242.3" width="3.2" height="3.2" fill="#fff" stroke="#4169cc" stroke-width="0.95"/><rect x="80.4" y="245.7" width="3.2" height="3.2" fill="#fff" stroke="#4169cc" stroke-width="0.95"/><rect x="80.4" y="249.0" width="3.2" height="3.2" fill="#fff" stroke="#4169cc" stroke-width="0.95"/><rect x="80.4" y="252.4" width="3.2" height="3.2" fill="#fff" stroke="#4169cc" stroke-width="0.95"/><rect x="86.9" y="222.4" width="3.2" height="3.2" fill="#fff" stroke="#4169cc" stroke-width="0.95"/><rect x="86.9" y="225.9" width="3.2" height="3.2" fill="#fff" stroke="#4169cc" stroke-width="0.95"/><rect x="86.9" y="236.4" width="3.2" height="3.2" fill="#fff" stroke="#4169cc" stroke-width="0.95"/><rect x="86.9" y="239.4" width="3.2" height="3.2" fill="#fff" stroke="#4169cc" stroke-width="0.95"/><rect x="86.9" y="242.4" width="3.2" height="3.2" fill="#fff" stroke="#4169cc" stroke-width="0.95"/><rect x="86.9" y="245.4" width="3.2" height="3.2" fill="#fff" stroke="#4169cc" stroke-width="0.95"/><rect x="86.9" y="248.4" width="3.2" height="3.2" fill="#fff" stroke="#4169cc" stroke-width="0.95"/><rect x="86.9" y="251.4" width="3.2" height="3.2" fill="#fff" stroke="#4169cc" stroke-width="0.95"/><rect x="130.8" y="169.4" width="3.2" height="3.2" fill="#fff" stroke="#4169cc" stroke-width="0.95"/><rect x="130.8" y="178.4" width="3.2" height="3.2" fill="#fff" stroke="#4169cc" stroke-width="0.95"/><rect x="130.8" y="181.7" width="3.2" height="3.2" fill="#fff" stroke="#4169cc" stroke-width="0.95"/><rect x="130.8" y="185.0" width="3.2" height="3.2" fill="#fff" stroke="#4169cc" stroke-width="0.95"/><rect x="130.8" y="188.3" width="3.2" height="3.2" fill="#fff" stroke="#4169cc" stroke-width="0.95"/><rect x="130.8" y="191.6" width="3.2" height="3.2" fill="#fff" stroke="#4169cc" stroke-width="0.95"/><rect x="130.8" y="194.8" width="3.2" height="3.2" fill="#fff" stroke="#4169cc" stroke-width="0.95"/><rect x="130.8" y="198.1" width="3.2" height="3.2" fill="#fff" stroke="#4169cc" stroke-width="0.95"/><rect x="130.8" y="201.4" width="3.2" height="3.2" fill="#fff" stroke="#4169cc" stroke-width="0.95"/><rect x="130.8" y="204.7" width="3.2" height="3.2" fill="#fff" stroke="#4169cc" stroke-width="0.95"/><rect x="139.0" y="185.6" width="3.2" height="3.2" fill="#fff" stroke="#4169cc" stroke-width="0.95"/><rect x="139.0" y="188.9" width="3.2" height="3.2" fill="#fff" stroke="#4169cc" stroke-width="0.95"/><rect x="139.0" y="192.2" width="3.2" height="3.2" fill="#fff" stroke="#4169cc" stroke-width="0.95"/><rect x="139.0" y="195.5" width="3.2" height="3.2" fill="#fff" stroke="#4169cc" stroke-width="0.95"/><rect x="139.0" y="198.8" width="3.2" height="3.2" fill="#fff" stroke="#4169cc" stroke-width="0.95"/><rect x="139.0" y="202.0" width="3.2" height="3.2" fill="#fff" stroke="#4169cc" stroke-width="0.95"/><rect x="139.0" y="205.3" width="3.2" height="3.2" fill="#fff" stroke="#4169cc" stroke-width="0.95"/><rect x="139.0" y="208.6" width="3.2" height="3.2" fill="#fff" stroke="#4169cc" stroke-width="0.95"/><rect x="139.0" y="211.9" width="3.2" height="3.2" fill="#fff" stroke="#4169cc" stroke-width="0.95"/><rect x="204.0" y="119.4" width="3.2" height="3.2" fill="#fff" stroke="#4169cc" stroke-width="0.95"/><rect x="204.0" y="122.8" width="3.2" height="3.2" fill="#fff" stroke="#4169cc" stroke-width="0.95"/><rect x="204.0" y="126.3" width="3.2" height="3.2" fill="#fff" stroke="#4169cc" stroke-width="0.95"/><rect x="204.0" y="129.7" width="3.2" height="3.2" fill="#fff" stroke="#4169cc" stroke-width="0.95"/><rect x="204.0" y="133.2" width="3.2" height="3.2" fill="#fff" stroke="#4169cc" stroke-width="0.95"/><rect x="204.0" y="136.6" width="3.2" height="3.2" fill="#fff" stroke="#4169cc" stroke-width="0.95"/><rect x="204.0" y="140.1" width="3.2" height="3.2" fill="#fff" stroke="#4169cc" stroke-width="0.95"/><rect x="204.0" y="143.5" width="3.2" height="3.2" fill="#fff" stroke="#4169cc" stroke-width="0.95"/><rect x="204.0" y="147.0" width="3.2" height="3.2" fill="#fff" stroke="#4169cc" stroke-width="0.95"/><rect x="204.0" y="150.4" width="3.2" height="3.2" fill="#fff" stroke="#4169cc" stroke-width="0.95"/><rect x="208.2" y="114.9" width="3.2" height="3.2" fill="#fff" stroke="#4169cc" stroke-width="0.95"/><rect x="208.2" y="118.2" width="3.2" height="3.2" fill="#fff" stroke="#4169cc" stroke-width="0.95"/><rect x="208.2" y="121.5" width="3.2" height="3.2" fill="#fff" stroke="#4169cc" stroke-width="0.95"/><rect x="208.2" y="124.9" width="3.2" height="3.2" fill="#fff" stroke="#4169cc" stroke-width="0.95"/><rect x="208.2" y="128.2" width="3.2" height="3.2" fill="#fff" stroke="#4169cc" stroke-width="0.95"/><rect x="208.2" y="131.5" width="3.2" height="3.2" fill="#fff" stroke="#4169cc" stroke-width="0.95"/><rect x="208.2" y="134.8" width="3.2" height="3.2" fill="#fff" stroke="#4169cc" stroke-width="0.95"/><rect x="208.2" y="138.1" width="3.2" height="3.2" fill="#fff" stroke="#4169cc" stroke-width="0.95"/><rect x="208.2" y="141.4" width="3.2" height="3.2" fill="#fff" stroke="#4169cc" stroke-width="0.95"/><rect x="208.2" y="144.8" width="3.2" height="3.2" fill="#fff" stroke="#4169cc" stroke-width="0.95"/><rect x="208.2" y="148.1" width="3.2" height="3.2" fill="#fff" stroke="#4169cc" stroke-width="0.95"/><rect x="208.2" y="151.4" width="3.2" height="3.2" fill="#fff" stroke="#4169cc" stroke-width="0.95"/><rect x="212.6" y="115.8" width="3.2" height="3.2" fill="#fff" stroke="#4169cc" stroke-width="0.95"/><rect x="212.6" y="119.2" width="3.2" height="3.2" fill="#fff" stroke="#4169cc" stroke-width="0.95"/><rect x="212.6" y="122.7" width="3.2" height="3.2" fill="#fff" stroke="#4169cc" stroke-width="0.95"/><rect x="212.6" y="126.1" width="3.2" height="3.2" fill="#fff" stroke="#4169cc" stroke-width="0.95"/><rect x="212.6" y="129.5" width="3.2" height="3.2" fill="#fff" stroke="#4169cc" stroke-width="0.95"/><rect x="212.6" y="133.0" width="3.2" height="3.2" fill="#fff" stroke="#4169cc" stroke-width="0.95"/><rect x="212.6" y="136.4" width="3.2" height="3.2" fill="#fff" stroke="#4169cc" stroke-width="0.95"/><rect x="212.6" y="139.8" width="3.2" height="3.2" fill="#fff" stroke="#4169cc" stroke-width="0.95"/><rect x="212.6" y="143.3" width="3.2" height="3.2" fill="#fff" stroke="#4169cc" stroke-width="0.95"/><rect x="212.6" y="146.7" width="3.2" height="3.2" fill="#fff" stroke="#4169cc" stroke-width="0.95"/><rect x="208.7" y="164.7" width="3.2" height="3.2" fill="#fff" stroke="#4169cc" stroke-width="0.95"/><rect x="208.7" y="83.7" width="3.2" height="3.2" fill="#fff" stroke="#4169cc" stroke-width="0.95"/><g stroke="#222" stroke-width="1.35" stroke-dasharray="4.9 5.7"><line x1="319.0" y1="0.5" x2="67.5" y2="252.0" stroke-dashoffset="-1.0"/><line x1="335.5" y1="17.6" x2="85.1" y2="268" stroke-dashoffset="-1.3" stroke-dasharray="4.9 5.67"/></g><path d="M149.3 170L152.3 108L160.2 193.5" fill="none" stroke="#222" stroke-width="1"/><path d="M188.0 202.0L192.5 206.5L188.0 211.0L183.5 206.5Z" fill="none" stroke="#5cb85c" stroke-width="1"/><circle cx="188.0" cy="224.3" r="4.5" fill="#fff" stroke="#e87070" stroke-width="1"/><rect x="183.8" y="237.8" width="8.5" height="8.5" fill="#fff" stroke="#6d8bd0" stroke-width="1"/><path d="M188 254L192.7 262.5L183.3 262.5Z" fill="none" stroke="#555" stroke-width="1"/><text x="208.41" y="211.7" font-size="16.3" textLength="93.97" lengthAdjust="spacingAndGlyphs" >Initial battery</text><text x="209.08" y="229.6" font-size="16.3" textLength="15.95" lengthAdjust="spacingAndGlyphs" >20</text><text x="231.06" y="227.4" font-size="14" textLength="6.28" lengthAdjust="spacingAndGlyphs" >°</text><text x="236.08" y="229.6" font-size="16.3" textLength="84.57" lengthAdjust="spacingAndGlyphs" >C−2C cycle</text><text x="209.08" y="246.5" font-size="16.3" textLength="15.95" lengthAdjust="spacingAndGlyphs" >60</text><text x="231.06" y="244.3" font-size="14" textLength="6.28" lengthAdjust="spacingAndGlyphs" >°</text><text x="236.10" y="246.5" font-size="16.3" textLength="95.92" lengthAdjust="spacingAndGlyphs" >C−0.5C cycle</text><text x="209.08" y="263.5" font-size="16.3" textLength="15.95" lengthAdjust="spacingAndGlyphs" >60</text><text x="231.06" y="261.3" font-size="14" textLength="6.28" lengthAdjust="spacingAndGlyphs" >°</text><text x="236.11" y="263.5" font-size="16.3" textLength="54.57" lengthAdjust="spacingAndGlyphs" >C aging</text><text x="73.61" y="22.9" font-size="20" textLength="178.46" lengthAdjust="spacingAndGlyphs" >Discharge capacity</text><text x="78.85" y="41.7" font-size="15" textLength="41.38" lengthAdjust="spacingAndGlyphs" >RMSE</text><text x="121.45" y="47.0" font-size="11" textLength="15.40" lengthAdjust="spacingAndGlyphs" >CV</text><text x="137.13" y="41.7" font-size="15" textLength="83.89" lengthAdjust="spacingAndGlyphs" >=44.01 mAh</text><text x="78.00" y="68.2" font-size="15" textLength="9.95" lengthAdjust="spacingAndGlyphs" >R</text><text x="87.61" y="73.2" font-size="11" textLength="16.34" lengthAdjust="spacingAndGlyphs" >CV</text><text x="103.67" y="61.8" font-size="10.5" textLength="5.87" lengthAdjust="spacingAndGlyphs" >2</text><text x="109.74" y="68.2" font-size="15" textLength="46.68" lengthAdjust="spacingAndGlyphs" >=0.916</text><text x="80.0" y="107.0" font-size="27.5" text-anchor="start" style="stroke-width:0.1px">(</text><text x="88.0" y="105.8" font-size="24" text-anchor="start" textLength="14" lengthAdjust="spacingAndGlyphs" style="stroke-width:0.1px">a</text><text x="104.0" y="107.0" font-size="27.5" text-anchor="start" style="stroke-width:0.1px">)</text><text x="126.84" y="104.3" font-size="15.5" textLength="63.28" lengthAdjust="spacingAndGlyphs" >90% lines</text><text x="28.78" y="262.4" font-size="16" textLength="34.64" lengthAdjust="spacingAndGlyphs" >3000</text><text x="62.38" y="287.6" font-size="16" textLength="34.22" lengthAdjust="spacingAndGlyphs" >3000</text><text x="28.78" y="204.23" font-size="16" textLength="34.64" lengthAdjust="spacingAndGlyphs" >3100</text><text x="120.58" y="287.6" font-size="16" textLength="34.22" lengthAdjust="spacingAndGlyphs" >3100</text><text x="28.78" y="146.05" font-size="16" textLength="34.64" lengthAdjust="spacingAndGlyphs" >3200</text><text x="178.78" y="287.6" font-size="16" textLength="34.22" lengthAdjust="spacingAndGlyphs" >3200</text><text x="28.78" y="87.88" font-size="16" textLength="34.64" lengthAdjust="spacingAndGlyphs" >3300</text><text x="236.98" y="287.6" font-size="16" textLength="34.22" lengthAdjust="spacingAndGlyphs" >3300</text><text x="28.78" y="29.7" font-size="16" textLength="34.64" lengthAdjust="spacingAndGlyphs" >3400</text><text x="295.18" y="287.6" font-size="16" textLength="34.22" lengthAdjust="spacingAndGlyphs" >3400</text><text x="112.99" y="318.4" font-size="20.3" textLength="114.71" lengthAdjust="spacingAndGlyphs" >Actual value</text><text x="233.75" y="316.5" font-size="20.8" textLength="6.91" lengthAdjust="spacingAndGlyphs" >(</text><text x="241.70" y="318.4" font-size="20.3" textLength="41.23" lengthAdjust="spacingAndGlyphs" >mAh</text><text x="284.71" y="316.5" font-size="20.8" textLength="6.03" lengthAdjust="spacingAndGlyphs" >)</text><text x="0.37" y="0" font-size="20.3" textLength="148.86" lengthAdjust="spacingAndGlyphs" transform="translate(20.4 241) rotate(-90)">Predicted value</text><text x="156.00" y="0" font-size="20.1" textLength="6.66" lengthAdjust="spacingAndGlyphs" transform="translate(17.8 241) rotate(-90)">(</text><text x="162.15" y="0" font-size="20.3" textLength="42.62" lengthAdjust="spacingAndGlyphs" transform="translate(20.4 241) rotate(-90)">mAh</text><text x="205.39" y="0" font-size="20.1" textLength="7.29" lengthAdjust="spacingAndGlyphs" transform="translate(17.8 241) rotate(-90)">)</text><line x1="97.2" y1="341.7" x2="97.2" y2="617.0" stroke="#d4d4f0" stroke-width="0.7" stroke-dasharray="1 1.3"/><line x1="63.6" y1="583.4" x2="339.7" y2="583.4" stroke="#d4d4f0" stroke-width="0.7" stroke-dasharray="1 1.3"/><line x1="156.8" y1="341.7" x2="156.8" y2="617.0" stroke="#d4d4f0" stroke-width="0.7" stroke-dasharray="1 1.3"/><line x1="63.6" y1="523.9" x2="339.7" y2="523.9" stroke="#d4d4f0" stroke-width="0.7" stroke-dasharray="1 1.3"/><line x1="216.3" y1="341.7" x2="216.3" y2="617.0" stroke="#d4d4f0" stroke-width="0.7" stroke-dasharray="1 1.3"/><line x1="63.6" y1="464.5" x2="339.7" y2="464.5" stroke="#d4d4f0" stroke-width="0.7" stroke-dasharray="1 1.3"/><line x1="275.9" y1="341.7" x2="275.9" y2="617.0" stroke="#d4d4f0" stroke-width="0.7" stroke-dasharray="1 1.3"/><line x1="63.6" y1="405.0" x2="339.7" y2="405.0" stroke="#d4d4f0" stroke-width="0.7" stroke-dasharray="1 1.3"/><line x1="335.4" y1="341.7" x2="335.4" y2="617.0" stroke="#d4d4f0" stroke-width="0.7" stroke-dasharray="1 1.3"/><line x1="63.6" y1="345.6" x2="339.7" y2="345.6" stroke="#d4d4f0" stroke-width="0.7" stroke-dasharray="1 1.3"/><rect x="63.6" y="341.7" width="276.09999999999997" height="275.3" fill="none" stroke="#262626" stroke-width="1.05"/><path d="M97.2 617.0v-8M97.2 341.7v8M63.6 583.4h8M339.7 583.4h-8M156.8 617.0v-8M156.8 341.7v8M63.6 523.9h8M339.7 523.9h-8M216.3 617.0v-8M216.3 341.7v8M63.6 464.5h8M339.7 464.5h-8M275.9 617.0v-8M275.9 341.7v8M63.6 405.0h8M339.7 405.0h-8M335.4 617.0v-8M335.4 341.7v8M63.6 345.6h8M339.7 345.6h-8" stroke="#222" stroke-width="1.1"/><rect x="172" y="537" width="158" height="71.5" fill="#fff"/><rect x="78" y="345.3" width="94.0" height="33.2" fill="#fff"/><rect x="78" y="379" width="135.0" height="23.0" fill="#fff"/><rect x="79.5" y="402" width="79.8" height="19.7" fill="#fff"/><rect x="72" y="421.7" width="36.0" height="39.3" fill="#fff"/><rect x="91" y="467" width="65.5" height="19.0" fill="#fff"/><circle cx="72.1" cy="565.7" r="1.65" fill="#fff" stroke="#e8333a" stroke-width="1.05"/><circle cx="69.1" cy="584.6" r="1.65" fill="#fff" stroke="#e8333a" stroke-width="1.05"/><circle cx="69.1" cy="587.2" r="1.65" fill="#fff" stroke="#e8333a" stroke-width="1.05"/><circle cx="69.1" cy="589.7" r="1.65" fill="#fff" stroke="#e8333a" stroke-width="1.05"/><circle cx="69.1" cy="592.3" r="1.65" fill="#fff" stroke="#e8333a" stroke-width="1.05"/><circle cx="69.1" cy="594.9" r="1.65" fill="#fff" stroke="#e8333a" stroke-width="1.05"/><circle cx="69.1" cy="597.5" r="1.65" fill="#fff" stroke="#e8333a" stroke-width="1.05"/><circle cx="69.1" cy="600.0" r="1.65" fill="#fff" stroke="#e8333a" stroke-width="1.05"/><circle cx="69.1" cy="602.6" r="1.65" fill="#fff" stroke="#e8333a" stroke-width="1.05"/><circle cx="69.1" cy="605.2" r="1.65" fill="#fff" stroke="#e8333a" stroke-width="1.05"/><circle cx="69.1" cy="607.7" r="1.65" fill="#fff" stroke="#e8333a" stroke-width="1.05"/><circle cx="69.1" cy="610.3" r="1.65" fill="#fff" stroke="#e8333a" stroke-width="1.05"/><circle cx="72.0" cy="584.6" r="1.65" fill="#fff" stroke="#e8333a" stroke-width="1.05"/><circle cx="72.0" cy="587.3" r="1.65" fill="#fff" stroke="#e8333a" stroke-width="1.05"/><circle cx="72.0" cy="589.9" r="1.65" fill="#fff" stroke="#e8333a" stroke-width="1.05"/><circle cx="72.0" cy="592.6" r="1.65" fill="#fff" stroke="#e8333a" stroke-width="1.05"/><circle cx="72.0" cy="595.3" r="1.65" fill="#fff" stroke="#e8333a" stroke-width="1.05"/><circle cx="72.0" cy="597.9" r="1.65" fill="#fff" stroke="#e8333a" stroke-width="1.05"/><circle cx="72.0" cy="600.6" r="1.65" fill="#fff" stroke="#e8333a" stroke-width="1.05"/><circle cx="72.0" cy="603.3" r="1.65" fill="#fff" stroke="#e8333a" stroke-width="1.05"/><circle cx="72.0" cy="605.9" r="1.65" fill="#fff" stroke="#e8333a" stroke-width="1.05"/><circle cx="72.0" cy="608.6" r="1.65" fill="#fff" stroke="#e8333a" stroke-width="1.05"/><circle cx="73.9" cy="593.0" r="1.65" fill="#fff" stroke="#e8333a" stroke-width="1.05"/><circle cx="73.9" cy="595.5" r="1.65" fill="#fff" stroke="#e8333a" stroke-width="1.05"/><circle cx="73.9" cy="598.0" r="1.65" fill="#fff" stroke="#e8333a" stroke-width="1.05"/><circle cx="73.9" cy="600.5" r="1.65" fill="#fff" stroke="#e8333a" stroke-width="1.05"/><circle cx="73.9" cy="603.0" r="1.65" fill="#fff" stroke="#e8333a" stroke-width="1.05"/><circle cx="73.9" cy="605.5" r="1.65" fill="#fff" stroke="#e8333a" stroke-width="1.05"/><circle cx="73.9" cy="608.0" r="1.65" fill="#fff" stroke="#e8333a" stroke-width="1.05"/><circle cx="76.6" cy="603.4" r="1.65" fill="#fff" stroke="#e8333a" stroke-width="1.05"/><circle cx="76.6" cy="606.9" r="1.65" fill="#fff" stroke="#e8333a" stroke-width="1.05"/><circle cx="90.9" cy="565.1" r="1.65" fill="#fff" stroke="#e8333a" stroke-width="1.05"/><circle cx="90.9" cy="569.7" r="1.65" fill="#fff" stroke="#e8333a" stroke-width="1.05"/><circle cx="90.9" cy="577.1" r="1.65" fill="#fff" stroke="#e8333a" stroke-width="1.05"/><circle cx="90.9" cy="579.8" r="1.65" fill="#fff" stroke="#e8333a" stroke-width="1.05"/><circle cx="90.9" cy="582.4" r="1.65" fill="#fff" stroke="#e8333a" stroke-width="1.05"/><circle cx="90.9" cy="585.1" r="1.65" fill="#fff" stroke="#e8333a" stroke-width="1.05"/><circle cx="90.9" cy="587.8" r="1.65" fill="#fff" stroke="#e8333a" stroke-width="1.05"/><circle cx="90.9" cy="590.4" r="1.65" fill="#fff" stroke="#e8333a" stroke-width="1.05"/><circle cx="90.9" cy="593.1" r="1.65" fill="#fff" stroke="#e8333a" stroke-width="1.05"/><circle cx="94.9" cy="572.6" r="1.65" fill="#fff" stroke="#e8333a" stroke-width="1.05"/><circle cx="94.9" cy="575.2" r="1.65" fill="#fff" stroke="#e8333a" stroke-width="1.05"/><circle cx="94.9" cy="577.8" r="1.65" fill="#fff" stroke="#e8333a" stroke-width="1.05"/><circle cx="94.9" cy="580.4" r="1.65" fill="#fff" stroke="#e8333a" stroke-width="1.05"/><circle cx="94.9" cy="583.1" r="1.65" fill="#fff" stroke="#e8333a" stroke-width="1.05"/><circle cx="94.9" cy="585.7" r="1.65" fill="#fff" stroke="#e8333a" stroke-width="1.05"/><circle cx="94.9" cy="588.3" r="1.65" fill="#fff" stroke="#e8333a" stroke-width="1.05"/><circle cx="94.9" cy="590.9" r="1.65" fill="#fff" stroke="#e8333a" stroke-width="1.05"/><circle cx="97.7" cy="574.9" r="1.65" fill="#fff" stroke="#e8333a" stroke-width="1.05"/><circle cx="97.7" cy="577.5" r="1.65" fill="#fff" stroke="#e8333a" stroke-width="1.05"/><circle cx="97.7" cy="580.1" r="1.65" fill="#fff" stroke="#e8333a" stroke-width="1.05"/><circle cx="97.7" cy="582.8" r="1.65" fill="#fff" stroke="#e8333a" stroke-width="1.05"/><circle cx="97.7" cy="585.4" r="1.65" fill="#fff" stroke="#e8333a" stroke-width="1.05"/><circle cx="97.7" cy="588.0" r="1.65" fill="#fff" stroke="#e8333a" stroke-width="1.05"/><circle cx="106.9" cy="536.9" r="1.65" fill="#fff" stroke="#e8333a" stroke-width="1.05"/><circle cx="106.9" cy="543.7" r="1.65" fill="#fff" stroke="#e8333a" stroke-width="1.05"/><circle cx="115.1" cy="544.6" r="1.65" fill="#fff" stroke="#e8333a" stroke-width="1.05"/><circle cx="106.7" cy="556.0" r="1.65" fill="#fff" stroke="#e8333a" stroke-width="1.05"/><circle cx="106.7" cy="558.8" r="1.65" fill="#fff" stroke="#e8333a" stroke-width="1.05"/><circle cx="106.7" cy="561.5" r="1.65" fill="#fff" stroke="#e8333a" stroke-width="1.05"/><circle cx="106.7" cy="564.3" r="1.65" fill="#fff" stroke="#e8333a" stroke-width="1.05"/><circle cx="106.7" cy="567.1" r="1.65" fill="#fff" stroke="#e8333a" stroke-width="1.05"/><circle cx="106.7" cy="569.9" r="1.65" fill="#fff" stroke="#e8333a" stroke-width="1.05"/><circle cx="106.7" cy="572.6" r="1.65" fill="#fff" stroke="#e8333a" stroke-width="1.05"/><circle cx="106.7" cy="575.4" r="1.65" fill="#fff" stroke="#e8333a" stroke-width="1.05"/><circle cx="110.9" cy="554.8" r="1.65" fill="#fff" stroke="#e8333a" stroke-width="1.05"/><circle cx="110.9" cy="557.3" r="1.65" fill="#fff" stroke="#e8333a" stroke-width="1.05"/><circle cx="110.9" cy="559.8" r="1.65" fill="#fff" stroke="#e8333a" stroke-width="1.05"/><circle cx="110.9" cy="562.3" r="1.65" fill="#fff" stroke="#e8333a" stroke-width="1.05"/><circle cx="110.9" cy="564.8" r="1.65" fill="#fff" stroke="#e8333a" stroke-width="1.05"/><circle cx="110.9" cy="567.3" r="1.65" fill="#fff" stroke="#e8333a" stroke-width="1.05"/><circle cx="110.9" cy="569.9" r="1.65" fill="#fff" stroke="#e8333a" stroke-width="1.05"/><circle cx="110.9" cy="572.4" r="1.65" fill="#fff" stroke="#e8333a" stroke-width="1.05"/><circle cx="110.9" cy="574.9" r="1.65" fill="#fff" stroke="#e8333a" stroke-width="1.05"/><circle cx="110.9" cy="577.4" r="1.65" fill="#fff" stroke="#e8333a" stroke-width="1.05"/><circle cx="110.9" cy="579.9" r="1.65" fill="#fff" stroke="#e8333a" stroke-width="1.05"/><circle cx="115.0" cy="553.0" r="1.65" fill="#fff" stroke="#e8333a" stroke-width="1.05"/><circle cx="115.0" cy="555.6" r="1.65" fill="#fff" stroke="#e8333a" stroke-width="1.05"/><circle cx="115.0" cy="558.2" r="1.65" fill="#fff" stroke="#e8333a" stroke-width="1.05"/><circle cx="115.0" cy="560.8" r="1.65" fill="#fff" stroke="#e8333a" stroke-width="1.05"/><circle cx="115.0" cy="563.5" r="1.65" fill="#fff" stroke="#e8333a" stroke-width="1.05"/><circle cx="115.0" cy="566.1" r="1.65" fill="#fff" stroke="#e8333a" stroke-width="1.05"/><circle cx="115.0" cy="568.7" r="1.65" fill="#fff" stroke="#e8333a" stroke-width="1.05"/><circle cx="115.0" cy="571.3" r="1.65" fill="#fff" stroke="#e8333a" stroke-width="1.05"/><circle cx="115.0" cy="573.9" r="1.65" fill="#fff" stroke="#e8333a" stroke-width="1.05"/><circle cx="117.6" cy="558.0" r="1.65" fill="#fff" stroke="#e8333a" stroke-width="1.05"/><circle cx="117.6" cy="561.0" r="1.65" fill="#fff" stroke="#e8333a" stroke-width="1.05"/><circle cx="117.6" cy="564.0" r="1.65" fill="#fff" stroke="#e8333a" stroke-width="1.05"/><circle cx="117.6" cy="567.0" r="1.65" fill="#fff" stroke="#e8333a" stroke-width="1.05"/><path d="M78.9 593.8L81.6 596.6L78.9 599.4L76.2 596.6Z" fill="none" stroke="#16a01e" stroke-width="1.1"/><path d="M78.9 596.7L81.6 599.5L78.9 602.2L76.2 599.5Z" fill="none" stroke="#16a01e" stroke-width="1.1"/><path d="M78.9 599.5L81.6 602.3L78.9 605.1L76.2 602.3Z" fill="none" stroke="#16a01e" stroke-width="1.1"/><path d="M82.3 587.2L85.0 590.0L82.3 592.8L79.6 590.0Z" fill="none" stroke="#16a01e" stroke-width="1.1"/><path d="M82.3 590.5L85.0 593.3L82.3 596.1L79.6 593.3Z" fill="none" stroke="#16a01e" stroke-width="1.1"/><path d="M82.3 593.9L85.0 596.7L82.3 599.5L79.6 596.7Z" fill="none" stroke="#16a01e" stroke-width="1.1"/><path d="M82.3 597.2L85.0 600.0L82.3 602.8L79.6 600.0Z" fill="none" stroke="#16a01e" stroke-width="1.1"/><path d="M85.7 584.6L88.4 587.4L85.7 590.2L83.0 587.4Z" fill="none" stroke="#16a01e" stroke-width="1.1"/><path d="M85.7 588.0L88.4 590.8L85.7 593.6L83.0 590.8Z" fill="none" stroke="#16a01e" stroke-width="1.1"/><path d="M85.7 591.5L88.4 594.3L85.7 597.1L83.0 594.3Z" fill="none" stroke="#16a01e" stroke-width="1.1"/><path d="M85.7 594.9L88.4 597.7L85.7 600.5L83.0 597.7Z" fill="none" stroke="#16a01e" stroke-width="1.1"/><path d="M122.3 512.9L123.9 516.1L120.7 516.1Z" fill="#fff" stroke="#1e1e1e" stroke-width="0.85" stroke-linejoin="miter"/><path d="M122.3 516.0L123.9 519.2L120.7 519.2Z" fill="#fff" stroke="#1e1e1e" stroke-width="0.85" stroke-linejoin="miter"/><path d="M122.3 519.0L123.9 522.3L120.7 522.3Z" fill="#fff" stroke="#1e1e1e" stroke-width="0.85" stroke-linejoin="miter"/><path d="M122.3 522.1L123.9 525.4L120.7 525.4Z" fill="#fff" stroke="#1e1e1e" stroke-width="0.85" stroke-linejoin="miter"/><path d="M122.3 525.2L123.9 528.4L120.7 528.4Z" fill="#fff" stroke="#1e1e1e" stroke-width="0.85" stroke-linejoin="miter"/><path d="M122.3 528.3L123.9 531.5L120.7 531.5Z" fill="#fff" stroke="#1e1e1e" stroke-width="0.85" stroke-linejoin="miter"/><path d="M122.3 533.5L123.9 536.7L120.7 536.7Z" fill="#fff" stroke="#1e1e1e" stroke-width="0.85" stroke-linejoin="miter"/><path d="M122.3 536.4L123.9 539.7L120.7 539.7Z" fill="#fff" stroke="#1e1e1e" stroke-width="0.85" stroke-linejoin="miter"/><path d="M122.3 539.4L123.9 542.6L120.7 542.6Z" fill="#fff" stroke="#1e1e1e" stroke-width="0.85" stroke-linejoin="miter"/><path d="M122.3 542.3L123.9 545.6L120.7 545.6Z" fill="#fff" stroke="#1e1e1e" stroke-width="0.85" stroke-linejoin="miter"/><path d="M122.3 545.3L123.9 548.5L120.7 548.5Z" fill="#fff" stroke="#1e1e1e" stroke-width="0.85" stroke-linejoin="miter"/><path d="M122.3 548.2L123.9 551.4L120.7 551.4Z" fill="#fff" stroke="#1e1e1e" stroke-width="0.85" stroke-linejoin="miter"/><path d="M122.3 551.1L123.9 554.4L120.7 554.4Z" fill="#fff" stroke="#1e1e1e" stroke-width="0.85" stroke-linejoin="miter"/><path d="M122.3 554.1L123.9 557.3L120.7 557.3Z" fill="#fff" stroke="#1e1e1e" stroke-width="0.85" stroke-linejoin="miter"/><path d="M122.3 557.0L123.9 560.3L120.7 560.3Z" fill="#fff" stroke="#1e1e1e" stroke-width="0.85" stroke-linejoin="miter"/><path d="M122.3 560.0L123.9 563.2L120.7 563.2Z" fill="#fff" stroke="#1e1e1e" stroke-width="0.85" stroke-linejoin="miter"/><path d="M123.0 565.2L124.6 568.4L121.4 568.4Z" fill="#fff" stroke="#1e1e1e" stroke-width="0.85" stroke-linejoin="miter"/><path d="M123.0 571.2L124.6 574.4L121.4 574.4Z" fill="#fff" stroke="#1e1e1e" stroke-width="0.85" stroke-linejoin="miter"/><path d="M125.7 503.1L127.3 506.3L124.1 506.3Z" fill="#fff" stroke="#1e1e1e" stroke-width="0.85" stroke-linejoin="miter"/><path d="M125.7 508.6L127.3 511.8L124.1 511.8Z" fill="#fff" stroke="#1e1e1e" stroke-width="0.85" stroke-linejoin="miter"/><path d="M125.7 512.9L127.3 516.1L124.1 516.1Z" fill="#fff" stroke="#1e1e1e" stroke-width="0.85" stroke-linejoin="miter"/><path d="M125.7 515.6L127.3 518.9L124.1 518.9Z" fill="#fff" stroke="#1e1e1e" stroke-width="0.85" stroke-linejoin="miter"/><path d="M125.7 518.4L127.3 521.6L124.1 521.6Z" fill="#fff" stroke="#1e1e1e" stroke-width="0.85" stroke-linejoin="miter"/><path d="M125.7 521.1L127.3 524.3L124.1 524.3Z" fill="#fff" stroke="#1e1e1e" stroke-width="0.85" stroke-linejoin="miter"/><path d="M125.7 523.8L127.3 527.1L124.1 527.1Z" fill="#fff" stroke="#1e1e1e" stroke-width="0.85" stroke-linejoin="miter"/><path d="M125.7 526.6L127.3 529.8L124.1 529.8Z" fill="#fff" stroke="#1e1e1e" stroke-width="0.85" stroke-linejoin="miter"/><path d="M125.7 533.5L127.3 536.7L124.1 536.7Z" fill="#fff" stroke="#1e1e1e" stroke-width="0.85" stroke-linejoin="miter"/><path d="M125.7 536.3L127.3 539.6L124.1 539.6Z" fill="#fff" stroke="#1e1e1e" stroke-width="0.85" stroke-linejoin="miter"/><path d="M125.7 539.2L127.3 542.5L124.1 542.5Z" fill="#fff" stroke="#1e1e1e" stroke-width="0.85" stroke-linejoin="miter"/><path d="M125.7 542.1L127.3 545.3L124.1 545.3Z" fill="#fff" stroke="#1e1e1e" stroke-width="0.85" stroke-linejoin="miter"/><path d="M125.7 544.9L127.3 548.2L124.1 548.2Z" fill="#fff" stroke="#1e1e1e" stroke-width="0.85" stroke-linejoin="miter"/><path d="M125.7 547.8L127.3 551.1L124.1 551.1Z" fill="#fff" stroke="#1e1e1e" stroke-width="0.85" stroke-linejoin="miter"/><path d="M125.7 550.7L127.3 553.9L124.1 553.9Z" fill="#fff" stroke="#1e1e1e" stroke-width="0.85" stroke-linejoin="miter"/><path d="M125.7 553.5L127.3 556.8L124.1 556.8Z" fill="#fff" stroke="#1e1e1e" stroke-width="0.85" stroke-linejoin="miter"/><path d="M125.7 556.4L127.3 559.7L124.1 559.7Z" fill="#fff" stroke="#1e1e1e" stroke-width="0.85" stroke-linejoin="miter"/><path d="M125.7 559.3L127.3 562.5L124.1 562.5Z" fill="#fff" stroke="#1e1e1e" stroke-width="0.85" stroke-linejoin="miter"/><path d="M172.0 470.0L173.6 473.2L170.4 473.2Z" fill="#fff" stroke="#1e1e1e" stroke-width="0.85" stroke-linejoin="miter"/><path d="M172.0 476.0L173.6 479.2L170.4 479.2Z" fill="#fff" stroke="#1e1e1e" stroke-width="0.85" stroke-linejoin="miter"/><path d="M172.0 483.8L173.6 487.0L170.4 487.0Z" fill="#fff" stroke="#1e1e1e" stroke-width="0.85" stroke-linejoin="miter"/><path d="M177.4 464.0L179.0 467.2L175.8 467.2Z" fill="#fff" stroke="#1e1e1e" stroke-width="0.85" stroke-linejoin="miter"/><path d="M177.4 477.4L179.0 480.6L175.8 480.6Z" fill="#fff" stroke="#1e1e1e" stroke-width="0.85" stroke-linejoin="miter"/><path d="M177.4 487.2L179.0 490.4L175.8 490.4Z" fill="#fff" stroke="#1e1e1e" stroke-width="0.85" stroke-linejoin="miter"/><path d="M177.4 490.1L179.0 493.3L175.8 493.3Z" fill="#fff" stroke="#1e1e1e" stroke-width="0.85" stroke-linejoin="miter"/><path d="M177.4 493.0L179.0 496.3L175.8 496.3Z" fill="#fff" stroke="#1e1e1e" stroke-width="0.85" stroke-linejoin="miter"/><path d="M177.4 496.0L179.0 499.2L175.8 499.2Z" fill="#fff" stroke="#1e1e1e" stroke-width="0.85" stroke-linejoin="miter"/><path d="M177.4 498.9L179.0 502.1L175.8 502.1Z" fill="#fff" stroke="#1e1e1e" stroke-width="0.85" stroke-linejoin="miter"/><path d="M177.4 501.8L179.0 505.0L175.8 505.0Z" fill="#fff" stroke="#1e1e1e" stroke-width="0.85" stroke-linejoin="miter"/><path d="M177.4 504.7L179.0 508.0L175.8 508.0Z" fill="#fff" stroke="#1e1e1e" stroke-width="0.85" stroke-linejoin="miter"/><path d="M177.4 507.7L179.0 510.9L175.8 510.9Z" fill="#fff" stroke="#1e1e1e" stroke-width="0.85" stroke-linejoin="miter"/><path d="M177.4 510.6L179.0 513.8L175.8 513.8Z" fill="#fff" stroke="#1e1e1e" stroke-width="0.85" stroke-linejoin="miter"/><path d="M196.7 427.7L198.3 430.9L195.1 430.9Z" fill="#fff" stroke="#1e1e1e" stroke-width="0.85" stroke-linejoin="miter"/><path d="M196.7 450.6L198.3 453.8L195.1 453.8Z" fill="#fff" stroke="#1e1e1e" stroke-width="0.85" stroke-linejoin="miter"/><path d="M196.7 459.7L198.3 462.9L195.1 462.9Z" fill="#fff" stroke="#1e1e1e" stroke-width="0.85" stroke-linejoin="miter"/><path d="M196.7 464.0L198.3 467.2L195.1 467.2Z" fill="#fff" stroke="#1e1e1e" stroke-width="0.85" stroke-linejoin="miter"/><path d="M196.7 466.8L198.3 470.0L195.1 470.0Z" fill="#fff" stroke="#1e1e1e" stroke-width="0.85" stroke-linejoin="miter"/><path d="M196.7 469.6L198.3 472.8L195.1 472.8Z" fill="#fff" stroke="#1e1e1e" stroke-width="0.85" stroke-linejoin="miter"/><path d="M196.7 472.3L198.3 475.6L195.1 475.6Z" fill="#fff" stroke="#1e1e1e" stroke-width="0.85" stroke-linejoin="miter"/><path d="M196.7 475.1L198.3 478.4L195.1 478.4Z" fill="#fff" stroke="#1e1e1e" stroke-width="0.85" stroke-linejoin="miter"/><path d="M196.7 477.9L198.3 481.2L195.1 481.2Z" fill="#fff" stroke="#1e1e1e" stroke-width="0.85" stroke-linejoin="miter"/><path d="M196.7 480.7L198.3 483.9L195.1 483.9Z" fill="#fff" stroke="#1e1e1e" stroke-width="0.85" stroke-linejoin="miter"/><path d="M196.7 483.5L198.3 486.7L195.1 486.7Z" fill="#fff" stroke="#1e1e1e" stroke-width="0.85" stroke-linejoin="miter"/><path d="M196.7 486.3L198.3 489.5L195.1 489.5Z" fill="#fff" stroke="#1e1e1e" stroke-width="0.85" stroke-linejoin="miter"/><path d="M209.4 442.3L211.0 445.5L207.8 445.5Z" fill="#fff" stroke="#1e1e1e" stroke-width="0.85" stroke-linejoin="miter"/><path d="M209.4 450.9L211.0 454.1L207.8 454.1Z" fill="#fff" stroke="#1e1e1e" stroke-width="0.85" stroke-linejoin="miter"/><path d="M209.4 453.9L211.0 457.1L207.8 457.1Z" fill="#fff" stroke="#1e1e1e" stroke-width="0.85" stroke-linejoin="miter"/><path d="M209.4 456.9L211.0 460.1L207.8 460.1Z" fill="#fff" stroke="#1e1e1e" stroke-width="0.85" stroke-linejoin="miter"/><path d="M209.4 459.9L211.0 463.1L207.8 463.1Z" fill="#fff" stroke="#1e1e1e" stroke-width="0.85" stroke-linejoin="miter"/><path d="M209.4 462.9L211.0 466.1L207.8 466.1Z" fill="#fff" stroke="#1e1e1e" stroke-width="0.85" stroke-linejoin="miter"/><path d="M209.4 465.9L211.0 469.1L207.8 469.1Z" fill="#fff" stroke="#1e1e1e" stroke-width="0.85" stroke-linejoin="miter"/><path d="M209.4 468.9L211.0 472.1L207.8 472.1Z" fill="#fff" stroke="#1e1e1e" stroke-width="0.85" stroke-linejoin="miter"/><path d="M209.4 471.9L211.0 475.1L207.8 475.1Z" fill="#fff" stroke="#1e1e1e" stroke-width="0.85" stroke-linejoin="miter"/><path d="M209.4 474.9L211.0 478.1L207.8 478.1Z" fill="#fff" stroke="#1e1e1e" stroke-width="0.85" stroke-linejoin="miter"/><path d="M209.4 483.5L211.0 486.7L207.8 486.7Z" fill="#fff" stroke="#1e1e1e" stroke-width="0.85" stroke-linejoin="miter"/><path d="M215.1 430.3L216.7 433.5L213.5 433.5Z" fill="#fff" stroke="#1e1e1e" stroke-width="0.85" stroke-linejoin="miter"/><path d="M215.1 449.2L216.7 452.4L213.5 452.4Z" fill="#fff" stroke="#1e1e1e" stroke-width="0.85" stroke-linejoin="miter"/><path d="M215.1 452.1L216.7 455.3L213.5 455.3Z" fill="#fff" stroke="#1e1e1e" stroke-width="0.85" stroke-linejoin="miter"/><path d="M215.1 455.0L216.7 458.2L213.5 458.2Z" fill="#fff" stroke="#1e1e1e" stroke-width="0.85" stroke-linejoin="miter"/><path d="M215.1 457.9L216.7 461.1L213.5 461.1Z" fill="#fff" stroke="#1e1e1e" stroke-width="0.85" stroke-linejoin="miter"/><path d="M215.1 460.8L216.7 464.1L213.5 464.1Z" fill="#fff" stroke="#1e1e1e" stroke-width="0.85" stroke-linejoin="miter"/><path d="M215.1 463.7L216.7 467.0L213.5 467.0Z" fill="#fff" stroke="#1e1e1e" stroke-width="0.85" stroke-linejoin="miter"/><path d="M215.1 466.6L216.7 469.9L213.5 469.9Z" fill="#fff" stroke="#1e1e1e" stroke-width="0.85" stroke-linejoin="miter"/><path d="M215.1 469.6L216.7 472.8L213.5 472.8Z" fill="#fff" stroke="#1e1e1e" stroke-width="0.85" stroke-linejoin="miter"/><path d="M215.1 472.5L216.7 475.7L213.5 475.7Z" fill="#fff" stroke="#1e1e1e" stroke-width="0.85" stroke-linejoin="miter"/><path d="M215.1 475.4L216.7 478.6L213.5 478.6Z" fill="#fff" stroke="#1e1e1e" stroke-width="0.85" stroke-linejoin="miter"/><path d="M215.1 478.3L216.7 481.5L213.5 481.5Z" fill="#fff" stroke="#1e1e1e" stroke-width="0.85" stroke-linejoin="miter"/><path d="M215.1 491.2L216.7 494.4L213.5 494.4Z" fill="#fff" stroke="#1e1e1e" stroke-width="0.85" stroke-linejoin="miter"/><path d="M215.1 497.2L216.7 500.4L213.5 500.4Z" fill="#fff" stroke="#1e1e1e" stroke-width="0.85" stroke-linejoin="miter"/><path d="M236.4 425.5L238.0 428.7L234.8 428.7Z" fill="#fff" stroke="#1e1e1e" stroke-width="0.85" stroke-linejoin="miter"/><path d="M236.4 432.9L238.0 436.1L234.8 436.1Z" fill="#fff" stroke="#1e1e1e" stroke-width="0.85" stroke-linejoin="miter"/><path d="M236.4 438.9L238.0 442.1L234.8 442.1Z" fill="#fff" stroke="#1e1e1e" stroke-width="0.85" stroke-linejoin="miter"/><path d="M236.4 464.6L238.0 467.8L234.8 467.8Z" fill="#fff" stroke="#1e1e1e" stroke-width="0.85" stroke-linejoin="miter"/><path d="M236.4 477.5L238.0 480.7L234.8 480.7Z" fill="#fff" stroke="#1e1e1e" stroke-width="0.85" stroke-linejoin="miter"/><path d="M236.4 442.3L238.0 445.5L234.8 445.5Z" fill="#fff" stroke="#1e1e1e" stroke-width="0.85" stroke-linejoin="miter"/><path d="M236.4 445.2L238.0 448.4L234.8 448.4Z" fill="#fff" stroke="#1e1e1e" stroke-width="0.85" stroke-linejoin="miter"/><path d="M236.4 448.1L238.0 451.4L234.8 451.4Z" fill="#fff" stroke="#1e1e1e" stroke-width="0.85" stroke-linejoin="miter"/><path d="M236.4 451.0L238.0 454.3L234.8 454.3Z" fill="#fff" stroke="#1e1e1e" stroke-width="0.85" stroke-linejoin="miter"/><path d="M236.4 454.0L238.0 457.2L234.8 457.2Z" fill="#fff" stroke="#1e1e1e" stroke-width="0.85" stroke-linejoin="miter"/><path d="M236.4 456.9L238.0 460.1L234.8 460.1Z" fill="#fff" stroke="#1e1e1e" stroke-width="0.85" stroke-linejoin="miter"/><rect x="163.5" y="491.8" width="3.2" height="3.2" fill="#fff" stroke="#4169cc" stroke-width="0.95"/><rect x="163.5" y="495.1" width="3.2" height="3.2" fill="#fff" stroke="#4169cc" stroke-width="0.95"/><rect x="163.5" y="498.4" width="3.2" height="3.2" fill="#fff" stroke="#4169cc" stroke-width="0.95"/><rect x="163.5" y="501.6" width="3.2" height="3.2" fill="#fff" stroke="#4169cc" stroke-width="0.95"/><rect x="163.5" y="504.9" width="3.2" height="3.2" fill="#fff" stroke="#4169cc" stroke-width="0.95"/><rect x="163.5" y="508.2" width="3.2" height="3.2" fill="#fff" stroke="#4169cc" stroke-width="0.95"/><rect x="163.5" y="511.5" width="3.2" height="3.2" fill="#fff" stroke="#4169cc" stroke-width="0.95"/><rect x="163.5" y="514.8" width="3.2" height="3.2" fill="#fff" stroke="#4169cc" stroke-width="0.95"/><rect x="163.5" y="518.1" width="3.2" height="3.2" fill="#fff" stroke="#4169cc" stroke-width="0.95"/><rect x="163.5" y="521.3" width="3.2" height="3.2" fill="#fff" stroke="#4169cc" stroke-width="0.95"/><rect x="163.5" y="524.6" width="3.2" height="3.2" fill="#fff" stroke="#4169cc" stroke-width="0.95"/><rect x="163.5" y="527.9" width="3.2" height="3.2" fill="#fff" stroke="#4169cc" stroke-width="0.95"/><rect x="166.9" y="495.3" width="3.2" height="3.2" fill="#fff" stroke="#4169cc" stroke-width="0.95"/><rect x="166.9" y="498.7" width="3.2" height="3.2" fill="#fff" stroke="#4169cc" stroke-width="0.95"/><rect x="166.9" y="502.1" width="3.2" height="3.2" fill="#fff" stroke="#4169cc" stroke-width="0.95"/><rect x="166.9" y="505.6" width="3.2" height="3.2" fill="#fff" stroke="#4169cc" stroke-width="0.95"/><rect x="166.9" y="509.0" width="3.2" height="3.2" fill="#fff" stroke="#4169cc" stroke-width="0.95"/><rect x="166.9" y="512.4" width="3.2" height="3.2" fill="#fff" stroke="#4169cc" stroke-width="0.95"/><rect x="166.9" y="515.8" width="3.2" height="3.2" fill="#fff" stroke="#4169cc" stroke-width="0.95"/><rect x="166.9" y="519.3" width="3.2" height="3.2" fill="#fff" stroke="#4169cc" stroke-width="0.95"/><rect x="166.9" y="522.7" width="3.2" height="3.2" fill="#fff" stroke="#4169cc" stroke-width="0.95"/><rect x="170.2" y="486.4" width="3.2" height="3.2" fill="#fff" stroke="#4169cc" stroke-width="0.95"/><rect x="170.2" y="489.6" width="3.2" height="3.2" fill="#fff" stroke="#4169cc" stroke-width="0.95"/><rect x="170.2" y="492.8" width="3.2" height="3.2" fill="#fff" stroke="#4169cc" stroke-width="0.95"/><rect x="170.2" y="496.1" width="3.2" height="3.2" fill="#fff" stroke="#4169cc" stroke-width="0.95"/><rect x="170.2" y="499.3" width="3.2" height="3.2" fill="#fff" stroke="#4169cc" stroke-width="0.95"/><rect x="170.2" y="502.5" width="3.2" height="3.2" fill="#fff" stroke="#4169cc" stroke-width="0.95"/><rect x="170.2" y="505.7" width="3.2" height="3.2" fill="#fff" stroke="#4169cc" stroke-width="0.95"/><rect x="170.2" y="508.9" width="3.2" height="3.2" fill="#fff" stroke="#4169cc" stroke-width="0.95"/><rect x="170.2" y="512.1" width="3.2" height="3.2" fill="#fff" stroke="#4169cc" stroke-width="0.95"/><rect x="170.2" y="515.4" width="3.2" height="3.2" fill="#fff" stroke="#4169cc" stroke-width="0.95"/><rect x="170.2" y="518.6" width="3.2" height="3.2" fill="#fff" stroke="#4169cc" stroke-width="0.95"/><rect x="170.2" y="521.8" width="3.2" height="3.2" fill="#fff" stroke="#4169cc" stroke-width="0.95"/><rect x="163.5" y="464.1" width="3.2" height="3.2" fill="#fff" stroke="#4169cc" stroke-width="0.95"/><rect x="164.9" y="465.4" width="3.2" height="3.2" fill="#fff" stroke="#4169cc" stroke-width="0.95"/><rect x="270.3" y="374.8" width="3.2" height="3.2" fill="#fff" stroke="#4169cc" stroke-width="0.95"/><rect x="270.3" y="389.7" width="3.2" height="3.2" fill="#fff" stroke="#4169cc" stroke-width="0.95"/><rect x="270.3" y="392.9" width="3.2" height="3.2" fill="#fff" stroke="#4169cc" stroke-width="0.95"/><rect x="270.3" y="396.1" width="3.2" height="3.2" fill="#fff" stroke="#4169cc" stroke-width="0.95"/><rect x="270.3" y="399.3" width="3.2" height="3.2" fill="#fff" stroke="#4169cc" stroke-width="0.95"/><rect x="270.3" y="402.5" width="3.2" height="3.2" fill="#fff" stroke="#4169cc" stroke-width="0.95"/><rect x="270.3" y="405.7" width="3.2" height="3.2" fill="#fff" stroke="#4169cc" stroke-width="0.95"/><rect x="270.3" y="409.0" width="3.2" height="3.2" fill="#fff" stroke="#4169cc" stroke-width="0.95"/><rect x="270.3" y="412.2" width="3.2" height="3.2" fill="#fff" stroke="#4169cc" stroke-width="0.95"/><rect x="270.3" y="415.4" width="3.2" height="3.2" fill="#fff" stroke="#4169cc" stroke-width="0.95"/><rect x="270.3" y="418.6" width="3.2" height="3.2" fill="#fff" stroke="#4169cc" stroke-width="0.95"/><rect x="270.3" y="421.8" width="3.2" height="3.2" fill="#fff" stroke="#4169cc" stroke-width="0.95"/><rect x="270.3" y="425.0" width="3.2" height="3.2" fill="#fff" stroke="#4169cc" stroke-width="0.95"/><rect x="287.9" y="370.5" width="3.2" height="3.2" fill="#fff" stroke="#4169cc" stroke-width="0.95"/><rect x="287.9" y="373.9" width="3.2" height="3.2" fill="#fff" stroke="#4169cc" stroke-width="0.95"/><rect x="287.9" y="377.2" width="3.2" height="3.2" fill="#fff" stroke="#4169cc" stroke-width="0.95"/><rect x="287.9" y="380.6" width="3.2" height="3.2" fill="#fff" stroke="#4169cc" stroke-width="0.95"/><rect x="287.9" y="383.9" width="3.2" height="3.2" fill="#fff" stroke="#4169cc" stroke-width="0.95"/><rect x="287.9" y="387.3" width="3.2" height="3.2" fill="#fff" stroke="#4169cc" stroke-width="0.95"/><rect x="287.9" y="390.7" width="3.2" height="3.2" fill="#fff" stroke="#4169cc" stroke-width="0.95"/><rect x="287.9" y="394.0" width="3.2" height="3.2" fill="#fff" stroke="#4169cc" stroke-width="0.95"/><rect x="287.9" y="397.4" width="3.2" height="3.2" fill="#fff" stroke="#4169cc" stroke-width="0.95"/><rect x="287.7" y="413.8" width="3.2" height="3.2" fill="#fff" stroke="#4169cc" stroke-width="0.95"/><rect x="287.7" y="419.8" width="3.2" height="3.2" fill="#fff" stroke="#4169cc" stroke-width="0.95"/><rect x="292.9" y="377.7" width="3.2" height="3.2" fill="#fff" stroke="#4169cc" stroke-width="0.95"/><rect x="292.9" y="380.9" width="3.2" height="3.2" fill="#fff" stroke="#4169cc" stroke-width="0.95"/><rect x="292.9" y="384.1" width="3.2" height="3.2" fill="#fff" stroke="#4169cc" stroke-width="0.95"/><rect x="292.9" y="387.4" width="3.2" height="3.2" fill="#fff" stroke="#4169cc" stroke-width="0.95"/><rect x="292.9" y="390.6" width="3.2" height="3.2" fill="#fff" stroke="#4169cc" stroke-width="0.95"/><rect x="292.9" y="393.8" width="3.2" height="3.2" fill="#fff" stroke="#4169cc" stroke-width="0.95"/><rect x="292.9" y="397.0" width="3.2" height="3.2" fill="#fff" stroke="#4169cc" stroke-width="0.95"/><rect x="292.9" y="400.3" width="3.2" height="3.2" fill="#fff" stroke="#4169cc" stroke-width="0.95"/><rect x="292.9" y="403.5" width="3.2" height="3.2" fill="#fff" stroke="#4169cc" stroke-width="0.95"/><rect x="292.9" y="406.7" width="3.2" height="3.2" fill="#fff" stroke="#4169cc" stroke-width="0.95"/><rect x="292.9" y="409.9" width="3.2" height="3.2" fill="#fff" stroke="#4169cc" stroke-width="0.95"/><rect x="292.9" y="413.2" width="3.2" height="3.2" fill="#fff" stroke="#4169cc" stroke-width="0.95"/><rect x="292.9" y="416.4" width="3.2" height="3.2" fill="#fff" stroke="#4169cc" stroke-width="0.95"/><rect x="292.9" y="419.6" width="3.2" height="3.2" fill="#fff" stroke="#4169cc" stroke-width="0.95"/><rect x="292.9" y="422.8" width="3.2" height="3.2" fill="#fff" stroke="#4169cc" stroke-width="0.95"/><rect x="292.9" y="426.1" width="3.2" height="3.2" fill="#fff" stroke="#4169cc" stroke-width="0.95"/><rect x="292.9" y="429.3" width="3.2" height="3.2" fill="#fff" stroke="#4169cc" stroke-width="0.95"/><rect x="298.2" y="352.8" width="3.2" height="3.2" fill="#fff" stroke="#4169cc" stroke-width="0.95"/><rect x="298.2" y="356.2" width="3.2" height="3.2" fill="#fff" stroke="#4169cc" stroke-width="0.95"/><rect x="298.2" y="359.5" width="3.2" height="3.2" fill="#fff" stroke="#4169cc" stroke-width="0.95"/><rect x="298.2" y="362.9" width="3.2" height="3.2" fill="#fff" stroke="#4169cc" stroke-width="0.95"/><rect x="298.2" y="366.2" width="3.2" height="3.2" fill="#fff" stroke="#4169cc" stroke-width="0.95"/><rect x="298.2" y="369.6" width="3.2" height="3.2" fill="#fff" stroke="#4169cc" stroke-width="0.95"/><rect x="298.2" y="372.9" width="3.2" height="3.2" fill="#fff" stroke="#4169cc" stroke-width="0.95"/><rect x="298.2" y="376.3" width="3.2" height="3.2" fill="#fff" stroke="#4169cc" stroke-width="0.95"/><rect x="298.2" y="379.7" width="3.2" height="3.2" fill="#fff" stroke="#4169cc" stroke-width="0.95"/><rect x="298.2" y="383.0" width="3.2" height="3.2" fill="#fff" stroke="#4169cc" stroke-width="0.95"/><rect x="298.2" y="386.4" width="3.2" height="3.2" fill="#fff" stroke="#4169cc" stroke-width="0.95"/><rect x="298.2" y="389.7" width="3.2" height="3.2" fill="#fff" stroke="#4169cc" stroke-width="0.95"/><rect x="298.2" y="393.1" width="3.2" height="3.2" fill="#fff" stroke="#4169cc" stroke-width="0.95"/><rect x="298.4" y="399.3" width="3.2" height="3.2" fill="#fff" stroke="#4169cc" stroke-width="0.95"/><rect x="298.4" y="405.1" width="3.2" height="3.2" fill="#fff" stroke="#4169cc" stroke-width="0.95"/><g stroke="#222" stroke-width="1.35" stroke-dasharray="4.9 5.68"><line x1="330.3" y1="341.2" x2="63.6" y2="607.9" stroke-dashoffset="-6.86"/><line x1="339.7" y1="350.7" x2="73.2" y2="617.2" stroke-dashoffset="-6.6"/></g><path d="M136.8 485L152.3 538M138.5 485L154 517.2" fill="none" stroke="#222" stroke-width="1"/><path d="M185.5 544.6L190.0 549.1L185.5 553.6L181.0 549.1Z" fill="none" stroke="#5cb85c" stroke-width="1"/><circle cx="185.5" cy="567.0" r="4.5" fill="#fff" stroke="#e87070" stroke-width="1"/><rect x="181.2" y="580.4" width="8.5" height="8.5" fill="#fff" stroke="#6d8bd0" stroke-width="1"/><path d="M185.5 597.2L190.2 605.6L180.8 605.6Z" fill="none" stroke="#555" stroke-width="1"/><text x="197.31" y="553.7" font-size="16.3" textLength="93.66" lengthAdjust="spacingAndGlyphs" >Initial battery</text><text x="197.98" y="571.7" font-size="16.3" textLength="15.95" lengthAdjust="spacingAndGlyphs" >20</text><text x="219.96" y="569.5" font-size="14" textLength="6.28" lengthAdjust="spacingAndGlyphs" >°</text><text x="224.99" y="571.7" font-size="16.3" textLength="91.59" lengthAdjust="spacingAndGlyphs" >C−2C cycles</text><text x="197.98" y="588.6" font-size="16.3" textLength="15.95" lengthAdjust="spacingAndGlyphs" >60</text><text x="219.96" y="586.4" font-size="14" textLength="6.28" lengthAdjust="spacingAndGlyphs" >°</text><text x="225.00" y="588.6" font-size="16.3" textLength="103.65" lengthAdjust="spacingAndGlyphs" >C−0.5C cycles</text><text x="197.98" y="605.5" font-size="16.3" textLength="15.95" lengthAdjust="spacingAndGlyphs" >60</text><text x="219.96" y="603.3" font-size="14" textLength="6.28" lengthAdjust="spacingAndGlyphs" >°</text><text x="225.01" y="605.5" font-size="16.3" textLength="54.26" lengthAdjust="spacingAndGlyphs" >C aging</text><text x="77.93" y="371.2" font-size="21" textLength="15.05" lengthAdjust="spacingAndGlyphs" >R</text><text x="91.86" y="378.2" font-size="15.5" textLength="9.55" lengthAdjust="spacingAndGlyphs" >E</text><rect x="100" y="345.3" width="72" height="15" fill="#fff"/><text x="101.41" y="358.7" font-size="16" textLength="13.02" lengthAdjust="spacingAndGlyphs" >20</text><text x="121.26" y="357.0" font-size="13" textLength="6.28" lengthAdjust="spacingAndGlyphs" >°</text><text x="126.24" y="358.7" font-size="16" textLength="10.92" lengthAdjust="spacingAndGlyphs" >C</text><text x="137.00" y="358.7" font-size="16" textLength="5.56" lengthAdjust="spacingAndGlyphs" >,</text><text x="145.82" y="358.7" font-size="16" textLength="24.23" lengthAdjust="spacingAndGlyphs" >50%</text><text x="79.65" y="393.5" font-size="15" textLength="41.48" lengthAdjust="spacingAndGlyphs" >RMSE</text><text x="121.31" y="398.6" font-size="11" textLength="16.34" lengthAdjust="spacingAndGlyphs" >CV</text><text x="138.05" y="393.6" font-size="15.5" textLength="54.69" lengthAdjust="spacingAndGlyphs" >=0.0033</text><text x="200.68" y="393.6" font-size="15" textLength="11.58" lengthAdjust="spacingAndGlyphs" >Ω</text><text x="80.10" y="418.7" font-size="15" textLength="9.95" lengthAdjust="spacingAndGlyphs" >R</text><text x="89.73" y="423.4" font-size="11" textLength="15.92" lengthAdjust="spacingAndGlyphs" >CV</text><text x="106.05" y="410.9" font-size="10.5" textLength="6.11" lengthAdjust="spacingAndGlyphs" >2</text><text x="112.29" y="418.8" font-size="15.5" textLength="43.66" lengthAdjust="spacingAndGlyphs" >=0.961</text><text x="74.0" y="452.6" font-size="27.5" text-anchor="start" style="stroke-width:0.1px">(</text><text x="84.0" y="452.2" font-size="24" text-anchor="start" textLength="12.6" lengthAdjust="spacingAndGlyphs" style="stroke-width:0.1px">b</text><text x="98.0" y="452.6" font-size="27.5" text-anchor="start" style="stroke-width:0.1px">)</text><text x="92.55" y="482.2" font-size="15.5" textLength="62.57" lengthAdjust="spacingAndGlyphs" >90% lines</text><text x="29.70" y="588.7" font-size="16" textLength="29.12" lengthAdjust="spacingAndGlyphs" >0.06</text><text x="82.60" y="636.7" font-size="16" textLength="29.22" lengthAdjust="spacingAndGlyphs" >0.06</text><text x="29.70" y="529.25" font-size="16" textLength="29.27" lengthAdjust="spacingAndGlyphs" >0.07</text><text x="142.16" y="636.7" font-size="16" textLength="29.38" lengthAdjust="spacingAndGlyphs" >0.07</text><text x="29.70" y="469.8" font-size="16" textLength="29.12" lengthAdjust="spacingAndGlyphs" >0.08</text><text x="201.72" y="636.7" font-size="16" textLength="29.22" lengthAdjust="spacingAndGlyphs" >0.08</text><text x="29.70" y="410.35" font-size="16" textLength="29.19" lengthAdjust="spacingAndGlyphs" >0.09</text><text x="261.28" y="636.7" font-size="16" textLength="29.30" lengthAdjust="spacingAndGlyphs" >0.09</text><text x="29.70" y="350.9" font-size="16" textLength="29.04" lengthAdjust="spacingAndGlyphs" >0.10</text><text x="320.84" y="636.7" font-size="16" textLength="29.14" lengthAdjust="spacingAndGlyphs" >0.10</text><text x="122.70" y="663.4" font-size="20.3" textLength="113.80" lengthAdjust="spacingAndGlyphs" >Actual value</text><text x="243.97" y="660.1" font-size="19.9" textLength="6.28" lengthAdjust="spacingAndGlyphs" >(</text><text x="255.05" y="662.9" font-size="20.5" textLength="15.96" lengthAdjust="spacingAndGlyphs" >Ω</text><text x="275.81" y="660.1" font-size="19.9" textLength="6.28" lengthAdjust="spacingAndGlyphs" >)</text><text x="0.29" y="0" font-size="20.3" textLength="147.74" lengthAdjust="spacingAndGlyphs" transform="translate(20.4 576) rotate(-90)">Predicted value</text><text x="155.53" y="0" font-size="20.1" textLength="7.04" lengthAdjust="spacingAndGlyphs" transform="translate(17.8 576) rotate(-90)">(</text><text x="166.81" y="0" font-size="25" textLength="14.84" lengthAdjust="spacingAndGlyphs" transform="translate(20.8 576) rotate(-90)">Ω</text><text x="185.89" y="0" font-size="20.1" textLength="7.04" lengthAdjust="spacingAndGlyphs" transform="translate(17.8 576) rotate(-90)">)</text></svg></body></html>
